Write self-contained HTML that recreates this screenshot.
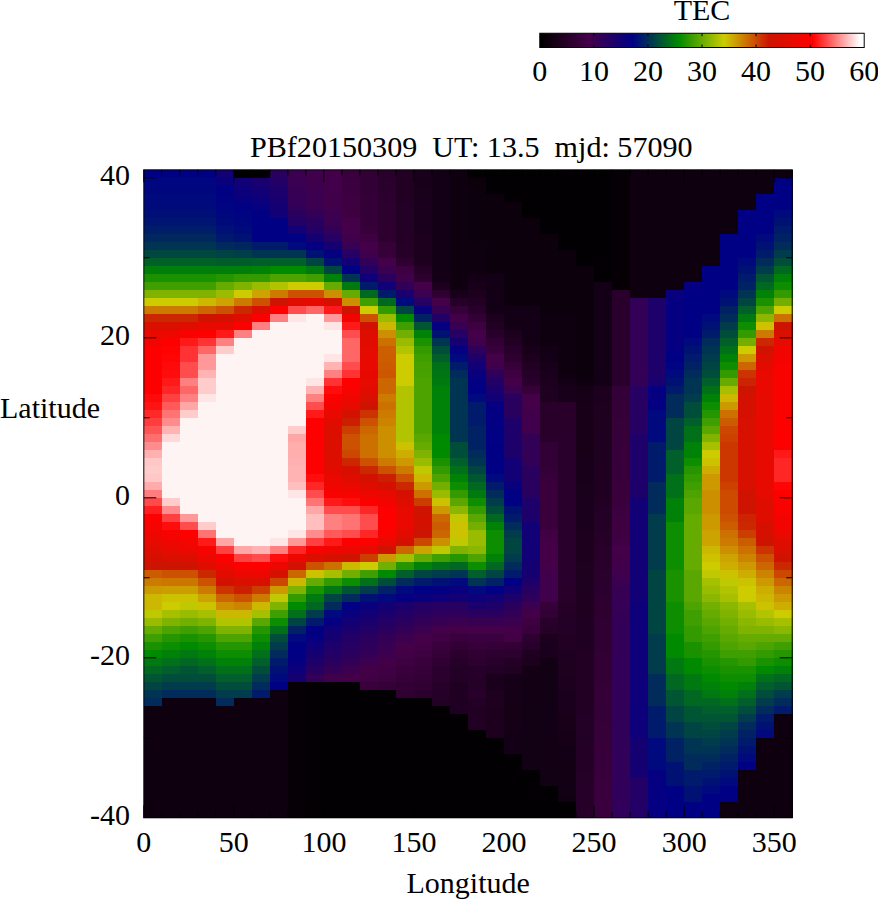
<!DOCTYPE html>
<html><head><meta charset="utf-8"><title>TEC map</title>
<style>
html,body{margin:0;padding:0;background:#fff}
body{width:878px;height:900px;overflow:hidden}
svg{display:block}
text{font-family:"Liberation Serif","Times New Roman",serif;font-size:30px;fill:#000}
</style></head><body>
<svg width="878" height="900" viewBox="0 0 878 900">
<defs><linearGradient id="cb" x1="0" x2="1" y1="0" y2="0"><stop offset="0.0000" stop-color="#000000"/><stop offset="0.1500" stop-color="#440048"/><stop offset="0.2867" stop-color="#000085"/><stop offset="0.4283" stop-color="#008a00"/><stop offset="0.5683" stop-color="#cccc00"/><stop offset="0.7067" stop-color="#cc1400"/><stop offset="0.8417" stop-color="#ff0000"/><stop offset="0.9867" stop-color="#ffffff"/><stop offset="1.0000" stop-color="#ffffff"/></linearGradient></defs>
<rect width="878" height="900" fill="#fff"/>
<g shape-rendering="crispEdges">
<rect x="143.8" y="169.80" width="18.3111" height="8.30" fill="#000085"/>
<rect x="143.8" y="177.80" width="18.3111" height="8.30" fill="#000580"/>
<rect x="143.8" y="185.80" width="18.3111" height="8.30" fill="#00077e"/>
<rect x="143.8" y="193.80" width="18.3111" height="8.30" fill="#00097d"/>
<rect x="143.8" y="201.80" width="18.3111" height="8.30" fill="#000a7b"/>
<rect x="143.8" y="209.80" width="18.3111" height="8.30" fill="#000e78"/>
<rect x="143.8" y="217.80" width="18.3111" height="8.30" fill="#001571"/>
<rect x="143.8" y="225.80" width="18.3111" height="8.30" fill="#001d69"/>
<rect x="143.8" y="233.80" width="18.3111" height="8.30" fill="#00285f"/>
<rect x="143.8" y="241.80" width="18.3111" height="8.30" fill="#003453"/>
<rect x="143.8" y="249.80" width="18.3111" height="8.30" fill="#00483f"/>
<rect x="143.8" y="257.80" width="18.3111" height="8.30" fill="#006128"/>
<rect x="143.8" y="265.80" width="18.3111" height="8.30" fill="#007e0c"/>
<rect x="143.8" y="273.80" width="18.3111" height="8.30" fill="#1a9200"/>
<rect x="143.8" y="281.80" width="18.3111" height="8.30" fill="#409f00"/>
<rect x="143.8" y="289.80" width="18.3111" height="8.30" fill="#80b300"/>
<rect x="143.8" y="297.80" width="18.3111" height="8.30" fill="#cccc00"/>
<rect x="143.8" y="305.80" width="18.3111" height="8.30" fill="#cc7a00"/>
<rect x="143.8" y="313.80" width="18.3111" height="8.30" fill="#cc2800"/>
<rect x="143.8" y="321.80" width="18.3111" height="8.30" fill="#d90f00"/>
<rect x="143.8" y="329.80" width="18.3111" height="8.30" fill="#e60a00"/>
<rect x="143.8" y="337.80" width="18.3111" height="8.30" fill="#f20500"/>
<rect x="143.8" y="345.80" width="18.3111" height="48.30" fill="#ff0000"/>
<rect x="143.8" y="393.80" width="18.3111" height="8.30" fill="#ff0a0a"/>
<rect x="143.8" y="401.80" width="18.3111" height="8.30" fill="#ff1414"/>
<rect x="143.8" y="409.80" width="18.3111" height="8.30" fill="#ff2929"/>
<rect x="143.8" y="417.80" width="18.3111" height="8.30" fill="#ff3d3d"/>
<rect x="143.8" y="425.80" width="18.3111" height="8.30" fill="#ff5454"/>
<rect x="143.8" y="433.80" width="18.3111" height="8.30" fill="#ff6e6e"/>
<rect x="143.8" y="441.80" width="18.3111" height="8.30" fill="#ff8c8c"/>
<rect x="143.8" y="449.80" width="18.3111" height="8.30" fill="#ffb0b0"/>
<rect x="143.8" y="457.80" width="18.3111" height="8.30" fill="#ffc7c7"/>
<rect x="143.8" y="465.80" width="18.3111" height="8.30" fill="#ffcccc"/>
<rect x="143.8" y="473.80" width="18.3111" height="8.30" fill="#ffc7c7"/>
<rect x="143.8" y="481.80" width="18.3111" height="8.30" fill="#ffabab"/>
<rect x="143.8" y="489.80" width="18.3111" height="8.30" fill="#ff7d7d"/>
<rect x="143.8" y="497.80" width="18.3111" height="8.30" fill="#ff4a4a"/>
<rect x="143.8" y="505.80" width="18.3111" height="8.30" fill="#ff1f1f"/>
<rect x="143.8" y="513.80" width="18.3111" height="8.30" fill="#ff0000"/>
<rect x="143.8" y="521.80" width="18.3111" height="8.30" fill="#f50400"/>
<rect x="143.8" y="529.80" width="18.3111" height="8.30" fill="#ef0600"/>
<rect x="143.8" y="537.80" width="18.3111" height="8.30" fill="#e60a00"/>
<rect x="143.8" y="545.80" width="18.3111" height="8.30" fill="#df0c00"/>
<rect x="143.8" y="553.80" width="18.3111" height="8.30" fill="#d61000"/>
<rect x="143.8" y="561.80" width="18.3111" height="8.30" fill="#cc1400"/>
<rect x="143.8" y="569.80" width="18.3111" height="8.30" fill="#cc5c00"/>
<rect x="143.8" y="577.80" width="18.3111" height="8.30" fill="#cc7a00"/>
<rect x="143.8" y="585.80" width="18.3111" height="8.30" fill="#cc9900"/>
<rect x="143.8" y="593.80" width="18.3111" height="16.30" fill="#ccb800"/>
<rect x="143.8" y="609.80" width="18.3111" height="8.30" fill="#bfc800"/>
<rect x="143.8" y="617.80" width="18.3111" height="8.30" fill="#99bc00"/>
<rect x="143.8" y="625.80" width="18.3111" height="8.30" fill="#66ab00"/>
<rect x="143.8" y="633.80" width="18.3111" height="8.30" fill="#409f00"/>
<rect x="143.8" y="641.80" width="18.3111" height="8.30" fill="#1a9200"/>
<rect x="143.8" y="649.80" width="18.3111" height="8.30" fill="#008a00"/>
<rect x="143.8" y="657.80" width="18.3111" height="8.30" fill="#007911"/>
<rect x="143.8" y="665.80" width="18.3111" height="8.30" fill="#006821"/>
<rect x="143.8" y="673.80" width="18.3111" height="8.30" fill="#005632"/>
<rect x="143.8" y="681.80" width="18.3111" height="8.30" fill="#004542"/>
<rect x="143.8" y="689.80" width="18.3111" height="8.30" fill="#003453"/>
<rect x="143.8" y="697.80" width="18.3111" height="8.30" fill="#002b5b"/>
<rect x="143.8" y="705.80" width="18.3111" height="112.30" fill="#0f0010"/>
<rect x="161.811" y="169.80" width="18.3111" height="8.30" fill="#000085"/>
<rect x="161.811" y="177.80" width="18.3111" height="8.30" fill="#000580"/>
<rect x="161.811" y="185.80" width="18.3111" height="8.30" fill="#00077e"/>
<rect x="161.811" y="193.80" width="18.3111" height="8.30" fill="#00097d"/>
<rect x="161.811" y="201.80" width="18.3111" height="8.30" fill="#000a7b"/>
<rect x="161.811" y="209.80" width="18.3111" height="8.30" fill="#000e78"/>
<rect x="161.811" y="217.80" width="18.3111" height="8.30" fill="#001571"/>
<rect x="161.811" y="225.80" width="18.3111" height="8.30" fill="#001d69"/>
<rect x="161.811" y="233.80" width="18.3111" height="8.30" fill="#00285f"/>
<rect x="161.811" y="241.80" width="18.3111" height="8.30" fill="#003453"/>
<rect x="161.811" y="249.80" width="18.3111" height="8.30" fill="#00483f"/>
<rect x="161.811" y="257.80" width="18.3111" height="8.30" fill="#006128"/>
<rect x="161.811" y="265.80" width="18.3111" height="8.30" fill="#007e0c"/>
<rect x="161.811" y="273.80" width="18.3111" height="8.30" fill="#1a9200"/>
<rect x="161.811" y="281.80" width="18.3111" height="8.30" fill="#409f00"/>
<rect x="161.811" y="289.80" width="18.3111" height="8.30" fill="#80b300"/>
<rect x="161.811" y="297.80" width="18.3111" height="8.30" fill="#cccc00"/>
<rect x="161.811" y="305.80" width="18.3111" height="8.30" fill="#cc7a00"/>
<rect x="161.811" y="313.80" width="18.3111" height="8.30" fill="#cc2800"/>
<rect x="161.811" y="321.80" width="18.3111" height="8.30" fill="#d90f00"/>
<rect x="161.811" y="329.80" width="18.3111" height="8.30" fill="#ec0800"/>
<rect x="161.811" y="337.80" width="18.3111" height="8.30" fill="#ff0000"/>
<rect x="161.811" y="345.80" width="18.3111" height="8.30" fill="#ff0303"/>
<rect x="161.811" y="353.80" width="18.3111" height="8.30" fill="#ff0505"/>
<rect x="161.811" y="361.80" width="18.3111" height="8.30" fill="#ff0a0a"/>
<rect x="161.811" y="369.80" width="18.3111" height="8.30" fill="#ff0d0d"/>
<rect x="161.811" y="377.80" width="18.3111" height="8.30" fill="#ff1919"/>
<rect x="161.811" y="385.80" width="18.3111" height="8.30" fill="#ff2626"/>
<rect x="161.811" y="393.80" width="18.3111" height="8.30" fill="#ff4040"/>
<rect x="161.811" y="401.80" width="18.3111" height="8.30" fill="#ff5959"/>
<rect x="161.811" y="409.80" width="18.3111" height="8.30" fill="#ff7373"/>
<rect x="161.811" y="417.80" width="18.3111" height="8.30" fill="#ff8c8c"/>
<rect x="161.811" y="425.80" width="18.3111" height="8.30" fill="#ffb3b3"/>
<rect x="161.811" y="433.80" width="18.3111" height="8.30" fill="#ffd9d9"/>
<rect x="161.811" y="441.80" width="18.3111" height="56.30" fill="#fff4f4"/>
<rect x="161.811" y="497.80" width="18.3111" height="8.30" fill="#ffcccc"/>
<rect x="161.811" y="505.80" width="18.3111" height="8.30" fill="#ff8c8c"/>
<rect x="161.811" y="513.80" width="18.3111" height="8.30" fill="#ff4040"/>
<rect x="161.811" y="521.80" width="18.3111" height="8.30" fill="#ff0d0d"/>
<rect x="161.811" y="529.80" width="18.3111" height="8.30" fill="#f90300"/>
<rect x="161.811" y="537.80" width="18.3111" height="8.30" fill="#ef0600"/>
<rect x="161.811" y="545.80" width="18.3111" height="8.30" fill="#e60a00"/>
<rect x="161.811" y="553.80" width="18.3111" height="8.30" fill="#d90f00"/>
<rect x="161.811" y="561.80" width="18.3111" height="8.30" fill="#cc1400"/>
<rect x="161.811" y="569.80" width="18.3111" height="8.30" fill="#cc5100"/>
<rect x="161.811" y="577.80" width="18.3111" height="8.30" fill="#cc7600"/>
<rect x="161.811" y="585.80" width="18.3111" height="8.30" fill="#cc9d00"/>
<rect x="161.811" y="593.80" width="18.3111" height="8.30" fill="#ccc200"/>
<rect x="161.811" y="601.80" width="18.3111" height="8.30" fill="#cccc00"/>
<rect x="161.811" y="609.80" width="18.3111" height="8.30" fill="#a6c000"/>
<rect x="161.811" y="617.80" width="18.3111" height="8.30" fill="#80b300"/>
<rect x="161.811" y="625.80" width="18.3111" height="8.30" fill="#4da300"/>
<rect x="161.811" y="633.80" width="18.3111" height="8.30" fill="#269600"/>
<rect x="161.811" y="641.80" width="18.3111" height="8.30" fill="#0d8e00"/>
<rect x="161.811" y="649.80" width="18.3111" height="8.30" fill="#008108"/>
<rect x="161.811" y="657.80" width="18.3111" height="8.30" fill="#007019"/>
<rect x="161.811" y="665.80" width="18.3111" height="8.30" fill="#005f2a"/>
<rect x="161.811" y="673.80" width="18.3111" height="8.30" fill="#004e3a"/>
<rect x="161.811" y="681.80" width="18.3111" height="8.30" fill="#003c4b"/>
<rect x="161.811" y="689.80" width="18.3111" height="8.30" fill="#002b5b"/>
<rect x="161.811" y="697.80" width="18.3111" height="120.30" fill="#0f0010"/>
<rect x="179.822" y="169.80" width="18.3111" height="8.30" fill="#000085"/>
<rect x="179.822" y="177.80" width="18.3111" height="8.30" fill="#000580"/>
<rect x="179.822" y="185.80" width="18.3111" height="8.30" fill="#00077e"/>
<rect x="179.822" y="193.80" width="18.3111" height="8.30" fill="#00097d"/>
<rect x="179.822" y="201.80" width="18.3111" height="8.30" fill="#000a7b"/>
<rect x="179.822" y="209.80" width="18.3111" height="8.30" fill="#000e78"/>
<rect x="179.822" y="217.80" width="18.3111" height="8.30" fill="#001571"/>
<rect x="179.822" y="225.80" width="18.3111" height="8.30" fill="#001d69"/>
<rect x="179.822" y="233.80" width="18.3111" height="8.30" fill="#00285f"/>
<rect x="179.822" y="241.80" width="18.3111" height="8.30" fill="#003453"/>
<rect x="179.822" y="249.80" width="18.3111" height="8.30" fill="#00483f"/>
<rect x="179.822" y="257.80" width="18.3111" height="8.30" fill="#006128"/>
<rect x="179.822" y="265.80" width="18.3111" height="8.30" fill="#007e0c"/>
<rect x="179.822" y="273.80" width="18.3111" height="8.30" fill="#1a9200"/>
<rect x="179.822" y="281.80" width="18.3111" height="8.30" fill="#409f00"/>
<rect x="179.822" y="289.80" width="18.3111" height="8.30" fill="#80b300"/>
<rect x="179.822" y="297.80" width="18.3111" height="8.30" fill="#cccc00"/>
<rect x="179.822" y="305.80" width="18.3111" height="8.30" fill="#cc7a00"/>
<rect x="179.822" y="313.80" width="18.3111" height="8.30" fill="#cc2800"/>
<rect x="179.822" y="321.80" width="18.3111" height="8.30" fill="#df0c00"/>
<rect x="179.822" y="329.80" width="18.3111" height="8.30" fill="#f90300"/>
<rect x="179.822" y="337.80" width="18.3111" height="8.30" fill="#ff1919"/>
<rect x="179.822" y="345.80" width="18.3111" height="16.30" fill="#ff3333"/>
<rect x="179.822" y="361.80" width="18.3111" height="16.30" fill="#ff4c4c"/>
<rect x="179.822" y="377.80" width="18.3111" height="8.30" fill="#ff8080"/>
<rect x="179.822" y="385.80" width="18.3111" height="8.30" fill="#ff6666"/>
<rect x="179.822" y="393.80" width="18.3111" height="8.30" fill="#ff8080"/>
<rect x="179.822" y="401.80" width="18.3111" height="8.30" fill="#ffa6a6"/>
<rect x="179.822" y="409.80" width="18.3111" height="8.30" fill="#ffcccc"/>
<rect x="179.822" y="417.80" width="18.3111" height="96.30" fill="#fff4f4"/>
<rect x="179.822" y="513.80" width="18.3111" height="8.30" fill="#ff9999"/>
<rect x="179.822" y="521.80" width="18.3111" height="8.30" fill="#ff4c4c"/>
<rect x="179.822" y="529.80" width="18.3111" height="8.30" fill="#ff0000"/>
<rect x="179.822" y="537.80" width="18.3111" height="8.30" fill="#f50400"/>
<rect x="179.822" y="545.80" width="18.3111" height="8.30" fill="#ec0800"/>
<rect x="179.822" y="553.80" width="18.3111" height="8.30" fill="#dc0e00"/>
<rect x="179.822" y="561.80" width="18.3111" height="8.30" fill="#cf1300"/>
<rect x="179.822" y="569.80" width="18.3111" height="8.30" fill="#cc5100"/>
<rect x="179.822" y="577.80" width="18.3111" height="8.30" fill="#cc7600"/>
<rect x="179.822" y="585.80" width="18.3111" height="8.30" fill="#cc9d00"/>
<rect x="179.822" y="593.80" width="18.3111" height="8.30" fill="#ccc200"/>
<rect x="179.822" y="601.80" width="18.3111" height="8.30" fill="#bfc800"/>
<rect x="179.822" y="609.80" width="18.3111" height="8.30" fill="#99bc00"/>
<rect x="179.822" y="617.80" width="18.3111" height="8.30" fill="#73af00"/>
<rect x="179.822" y="625.80" width="18.3111" height="8.30" fill="#409f00"/>
<rect x="179.822" y="633.80" width="18.3111" height="8.30" fill="#1a9200"/>
<rect x="179.822" y="641.80" width="18.3111" height="8.30" fill="#008a00"/>
<rect x="179.822" y="649.80" width="18.3111" height="8.30" fill="#007911"/>
<rect x="179.822" y="657.80" width="18.3111" height="8.30" fill="#006821"/>
<rect x="179.822" y="665.80" width="18.3111" height="8.30" fill="#005632"/>
<rect x="179.822" y="673.80" width="18.3111" height="8.30" fill="#004e3a"/>
<rect x="179.822" y="681.80" width="18.3111" height="8.30" fill="#003c4b"/>
<rect x="179.822" y="689.80" width="18.3111" height="8.30" fill="#002b5b"/>
<rect x="179.822" y="697.80" width="18.3111" height="120.30" fill="#0f0010"/>
<rect x="197.833" y="169.80" width="18.3111" height="8.30" fill="#000085"/>
<rect x="197.833" y="177.80" width="18.3111" height="8.30" fill="#000580"/>
<rect x="197.833" y="185.80" width="18.3111" height="8.30" fill="#00077e"/>
<rect x="197.833" y="193.80" width="18.3111" height="8.30" fill="#00097d"/>
<rect x="197.833" y="201.80" width="18.3111" height="8.30" fill="#000a7b"/>
<rect x="197.833" y="209.80" width="18.3111" height="8.30" fill="#000e78"/>
<rect x="197.833" y="217.80" width="18.3111" height="8.30" fill="#001571"/>
<rect x="197.833" y="225.80" width="18.3111" height="8.30" fill="#001d69"/>
<rect x="197.833" y="233.80" width="18.3111" height="8.30" fill="#00285f"/>
<rect x="197.833" y="241.80" width="18.3111" height="8.30" fill="#003453"/>
<rect x="197.833" y="249.80" width="18.3111" height="8.30" fill="#00483f"/>
<rect x="197.833" y="257.80" width="18.3111" height="8.30" fill="#006128"/>
<rect x="197.833" y="265.80" width="18.3111" height="8.30" fill="#007e0c"/>
<rect x="197.833" y="273.80" width="18.3111" height="8.30" fill="#1a9200"/>
<rect x="197.833" y="281.80" width="18.3111" height="8.30" fill="#409f00"/>
<rect x="197.833" y="289.80" width="18.3111" height="8.30" fill="#80b300"/>
<rect x="197.833" y="297.80" width="18.3111" height="8.30" fill="#ccb800"/>
<rect x="197.833" y="305.80" width="18.3111" height="8.30" fill="#cc6600"/>
<rect x="197.833" y="313.80" width="18.3111" height="8.30" fill="#cc1400"/>
<rect x="197.833" y="321.80" width="18.3111" height="8.30" fill="#e60a00"/>
<rect x="197.833" y="329.80" width="18.3111" height="8.30" fill="#ff0000"/>
<rect x="197.833" y="337.80" width="18.3111" height="8.30" fill="#ff3333"/>
<rect x="197.833" y="345.80" width="18.3111" height="8.30" fill="#ff6666"/>
<rect x="197.833" y="353.80" width="18.3111" height="16.30" fill="#ff9999"/>
<rect x="197.833" y="369.80" width="18.3111" height="8.30" fill="#ffb3b3"/>
<rect x="197.833" y="377.80" width="18.3111" height="16.30" fill="#ffcccc"/>
<rect x="197.833" y="393.80" width="18.3111" height="8.30" fill="#ffe6e6"/>
<rect x="197.833" y="401.80" width="18.3111" height="120.30" fill="#fff4f4"/>
<rect x="197.833" y="521.80" width="18.3111" height="8.30" fill="#ffcccc"/>
<rect x="197.833" y="529.80" width="18.3111" height="8.30" fill="#ff7373"/>
<rect x="197.833" y="537.80" width="18.3111" height="8.30" fill="#ff1919"/>
<rect x="197.833" y="545.80" width="18.3111" height="8.30" fill="#f90300"/>
<rect x="197.833" y="553.80" width="18.3111" height="8.30" fill="#ec0800"/>
<rect x="197.833" y="561.80" width="18.3111" height="8.30" fill="#df0c00"/>
<rect x="197.833" y="569.80" width="18.3111" height="8.30" fill="#cc2800"/>
<rect x="197.833" y="577.80" width="18.3111" height="8.30" fill="#cc5100"/>
<rect x="197.833" y="585.80" width="18.3111" height="8.30" fill="#cc7a00"/>
<rect x="197.833" y="593.80" width="18.3111" height="8.30" fill="#cca300"/>
<rect x="197.833" y="601.80" width="18.3111" height="8.30" fill="#ccc200"/>
<rect x="197.833" y="609.80" width="18.3111" height="8.30" fill="#a6c000"/>
<rect x="197.833" y="617.80" width="18.3111" height="8.30" fill="#80b300"/>
<rect x="197.833" y="625.80" width="18.3111" height="8.30" fill="#4da300"/>
<rect x="197.833" y="633.80" width="18.3111" height="8.30" fill="#269600"/>
<rect x="197.833" y="641.80" width="18.3111" height="8.30" fill="#0d8e00"/>
<rect x="197.833" y="649.80" width="18.3111" height="8.30" fill="#008108"/>
<rect x="197.833" y="657.80" width="18.3111" height="8.30" fill="#007019"/>
<rect x="197.833" y="665.80" width="18.3111" height="8.30" fill="#005f2a"/>
<rect x="197.833" y="673.80" width="18.3111" height="8.30" fill="#004e3a"/>
<rect x="197.833" y="681.80" width="18.3111" height="8.30" fill="#003c4b"/>
<rect x="197.833" y="689.80" width="18.3111" height="8.30" fill="#002b5b"/>
<rect x="197.833" y="697.80" width="18.3111" height="120.30" fill="#0f0010"/>
<rect x="215.844" y="169.80" width="18.3111" height="8.30" fill="#110076"/>
<rect x="215.844" y="177.80" width="18.3111" height="8.30" fill="#09007d"/>
<rect x="215.844" y="185.80" width="18.3111" height="8.30" fill="#000085"/>
<rect x="215.844" y="193.80" width="18.3111" height="8.30" fill="#000283"/>
<rect x="215.844" y="201.80" width="18.3111" height="8.30" fill="#000382"/>
<rect x="215.844" y="209.80" width="18.3111" height="8.30" fill="#00077e"/>
<rect x="215.844" y="217.80" width="18.3111" height="8.30" fill="#000a7b"/>
<rect x="215.844" y="225.80" width="18.3111" height="8.30" fill="#001076"/>
<rect x="215.844" y="233.80" width="18.3111" height="8.30" fill="#00186e"/>
<rect x="215.844" y="241.80" width="18.3111" height="8.30" fill="#00295d"/>
<rect x="215.844" y="249.80" width="18.3111" height="8.30" fill="#004344"/>
<rect x="215.844" y="257.80" width="18.3111" height="8.30" fill="#005d2b"/>
<rect x="215.844" y="265.80" width="18.3111" height="8.30" fill="#007e0c"/>
<rect x="215.844" y="273.80" width="18.3111" height="8.30" fill="#269600"/>
<rect x="215.844" y="281.80" width="18.3111" height="8.30" fill="#66ab00"/>
<rect x="215.844" y="289.80" width="18.3111" height="8.30" fill="#99bc00"/>
<rect x="215.844" y="297.80" width="18.3111" height="8.30" fill="#cca300"/>
<rect x="215.844" y="305.80" width="18.3111" height="8.30" fill="#cc5100"/>
<rect x="215.844" y="313.80" width="18.3111" height="8.30" fill="#d21100"/>
<rect x="215.844" y="321.80" width="18.3111" height="8.30" fill="#e60a00"/>
<rect x="215.844" y="329.80" width="18.3111" height="8.30" fill="#ff1919"/>
<rect x="215.844" y="337.80" width="18.3111" height="8.30" fill="#ff8080"/>
<rect x="215.844" y="345.80" width="18.3111" height="8.30" fill="#ffcccc"/>
<rect x="215.844" y="353.80" width="18.3111" height="184.30" fill="#fff4f4"/>
<rect x="215.844" y="537.80" width="18.3111" height="8.30" fill="#ffa6a6"/>
<rect x="215.844" y="545.80" width="18.3111" height="8.30" fill="#ff4040"/>
<rect x="215.844" y="553.80" width="18.3111" height="8.30" fill="#ff0000"/>
<rect x="215.844" y="561.80" width="18.3111" height="8.30" fill="#ef0600"/>
<rect x="215.844" y="569.80" width="18.3111" height="8.30" fill="#e20b00"/>
<rect x="215.844" y="577.80" width="18.3111" height="8.30" fill="#d21100"/>
<rect x="215.844" y="585.80" width="18.3111" height="8.30" fill="#cc3300"/>
<rect x="215.844" y="593.80" width="18.3111" height="8.30" fill="#cc6600"/>
<rect x="215.844" y="601.80" width="18.3111" height="8.30" fill="#cc8f00"/>
<rect x="215.844" y="609.80" width="18.3111" height="8.30" fill="#ccb800"/>
<rect x="215.844" y="617.80" width="18.3111" height="8.30" fill="#b2c400"/>
<rect x="215.844" y="625.80" width="18.3111" height="8.30" fill="#80b300"/>
<rect x="215.844" y="633.80" width="18.3111" height="8.30" fill="#4da300"/>
<rect x="215.844" y="641.80" width="18.3111" height="8.30" fill="#269600"/>
<rect x="215.844" y="649.80" width="18.3111" height="8.30" fill="#0d8e00"/>
<rect x="215.844" y="657.80" width="18.3111" height="8.30" fill="#008108"/>
<rect x="215.844" y="665.80" width="18.3111" height="8.30" fill="#007019"/>
<rect x="215.844" y="673.80" width="18.3111" height="8.30" fill="#005f2a"/>
<rect x="215.844" y="681.80" width="18.3111" height="8.30" fill="#004e3a"/>
<rect x="215.844" y="689.80" width="18.3111" height="8.30" fill="#003c4b"/>
<rect x="215.844" y="697.80" width="18.3111" height="8.30" fill="#002b5b"/>
<rect x="215.844" y="705.80" width="18.3111" height="112.30" fill="#0f0010"/>
<rect x="233.856" y="169.80" width="18.3111" height="8.30" fill="#030003"/>
<rect x="233.856" y="177.80" width="18.3111" height="8.30" fill="#110076"/>
<rect x="233.856" y="185.80" width="18.3111" height="8.30" fill="#0d007a"/>
<rect x="233.856" y="193.80" width="18.3111" height="8.30" fill="#09007d"/>
<rect x="233.856" y="201.80" width="18.3111" height="8.30" fill="#000283"/>
<rect x="233.856" y="209.80" width="18.3111" height="8.30" fill="#000382"/>
<rect x="233.856" y="217.80" width="18.3111" height="8.30" fill="#00077e"/>
<rect x="233.856" y="225.80" width="18.3111" height="8.30" fill="#000a7b"/>
<rect x="233.856" y="233.80" width="18.3111" height="8.30" fill="#001174"/>
<rect x="233.856" y="241.80" width="18.3111" height="8.30" fill="#002660"/>
<rect x="233.856" y="249.80" width="18.3111" height="8.30" fill="#003e49"/>
<rect x="233.856" y="257.80" width="18.3111" height="8.30" fill="#005d2b"/>
<rect x="233.856" y="265.80" width="18.3111" height="8.30" fill="#007e0c"/>
<rect x="233.856" y="273.80" width="18.3111" height="8.30" fill="#339a00"/>
<rect x="233.856" y="281.80" width="18.3111" height="8.30" fill="#80b300"/>
<rect x="233.856" y="289.80" width="18.3111" height="8.30" fill="#cccc00"/>
<rect x="233.856" y="297.80" width="18.3111" height="8.30" fill="#cc7a00"/>
<rect x="233.856" y="305.80" width="18.3111" height="8.30" fill="#cc2800"/>
<rect x="233.856" y="313.80" width="18.3111" height="8.30" fill="#df0c00"/>
<rect x="233.856" y="321.80" width="18.3111" height="8.30" fill="#ff0000"/>
<rect x="233.856" y="329.80" width="18.3111" height="8.30" fill="#ff8080"/>
<rect x="233.856" y="337.80" width="18.3111" height="208.30" fill="#fff4f4"/>
<rect x="233.856" y="545.80" width="18.3111" height="8.30" fill="#ffa6a6"/>
<rect x="233.856" y="553.80" width="18.3111" height="8.30" fill="#ff4040"/>
<rect x="233.856" y="561.80" width="18.3111" height="8.30" fill="#fc0100"/>
<rect x="233.856" y="569.80" width="18.3111" height="8.30" fill="#ec0800"/>
<rect x="233.856" y="577.80" width="18.3111" height="8.30" fill="#d90f00"/>
<rect x="233.856" y="585.80" width="18.3111" height="8.30" fill="#cc1e00"/>
<rect x="233.856" y="593.80" width="18.3111" height="8.30" fill="#cc5100"/>
<rect x="233.856" y="601.80" width="18.3111" height="8.30" fill="#cc8400"/>
<rect x="233.856" y="609.80" width="18.3111" height="8.30" fill="#ccb800"/>
<rect x="233.856" y="617.80" width="18.3111" height="8.30" fill="#b2c400"/>
<rect x="233.856" y="625.80" width="18.3111" height="8.30" fill="#80b300"/>
<rect x="233.856" y="633.80" width="18.3111" height="8.30" fill="#4da300"/>
<rect x="233.856" y="641.80" width="18.3111" height="8.30" fill="#269600"/>
<rect x="233.856" y="649.80" width="18.3111" height="8.30" fill="#0d8e00"/>
<rect x="233.856" y="657.80" width="18.3111" height="8.30" fill="#008108"/>
<rect x="233.856" y="665.80" width="18.3111" height="8.30" fill="#007019"/>
<rect x="233.856" y="673.80" width="18.3111" height="8.30" fill="#005f2a"/>
<rect x="233.856" y="681.80" width="18.3111" height="8.30" fill="#004e3a"/>
<rect x="233.856" y="689.80" width="18.3111" height="8.30" fill="#003c4b"/>
<rect x="233.856" y="697.80" width="18.3111" height="120.30" fill="#0f0010"/>
<rect x="251.867" y="169.80" width="18.3111" height="8.30" fill="#030003"/>
<rect x="251.867" y="177.80" width="18.3111" height="8.30" fill="#1a006e"/>
<rect x="251.867" y="185.80" width="18.3111" height="8.30" fill="#130074"/>
<rect x="251.867" y="193.80" width="18.3111" height="8.30" fill="#0d007a"/>
<rect x="251.867" y="201.80" width="18.3111" height="8.30" fill="#07007f"/>
<rect x="251.867" y="209.80" width="18.3111" height="32.30" fill="#000085"/>
<rect x="251.867" y="241.80" width="18.3111" height="8.30" fill="#001a6c"/>
<rect x="251.867" y="249.80" width="18.3111" height="8.30" fill="#003453"/>
<rect x="251.867" y="257.80" width="18.3111" height="8.30" fill="#005f2a"/>
<rect x="251.867" y="265.80" width="18.3111" height="8.30" fill="#008108"/>
<rect x="251.867" y="273.80" width="18.3111" height="8.30" fill="#339a00"/>
<rect x="251.867" y="281.80" width="18.3111" height="8.30" fill="#99bc00"/>
<rect x="251.867" y="289.80" width="18.3111" height="8.30" fill="#cca300"/>
<rect x="251.867" y="297.80" width="18.3111" height="8.30" fill="#cc5100"/>
<rect x="251.867" y="305.80" width="18.3111" height="8.30" fill="#d90f00"/>
<rect x="251.867" y="313.80" width="18.3111" height="8.30" fill="#ff0000"/>
<rect x="251.867" y="321.80" width="18.3111" height="8.30" fill="#ff8080"/>
<rect x="251.867" y="329.80" width="18.3111" height="216.30" fill="#fff4f4"/>
<rect x="251.867" y="545.80" width="18.3111" height="8.30" fill="#ffb3b3"/>
<rect x="251.867" y="553.80" width="18.3111" height="8.30" fill="#ff4c4c"/>
<rect x="251.867" y="561.80" width="18.3111" height="8.30" fill="#ff0000"/>
<rect x="251.867" y="569.80" width="18.3111" height="8.30" fill="#ec0800"/>
<rect x="251.867" y="577.80" width="18.3111" height="8.30" fill="#d90f00"/>
<rect x="251.867" y="585.80" width="18.3111" height="8.30" fill="#cc3d00"/>
<rect x="251.867" y="593.80" width="18.3111" height="8.30" fill="#cc7a00"/>
<rect x="251.867" y="601.80" width="18.3111" height="8.30" fill="#ccb800"/>
<rect x="251.867" y="609.80" width="18.3111" height="8.30" fill="#a6c000"/>
<rect x="251.867" y="617.80" width="18.3111" height="8.30" fill="#59a700"/>
<rect x="251.867" y="625.80" width="18.3111" height="8.30" fill="#269600"/>
<rect x="251.867" y="633.80" width="18.3111" height="8.30" fill="#0d8e00"/>
<rect x="251.867" y="641.80" width="18.3111" height="8.30" fill="#008108"/>
<rect x="251.867" y="649.80" width="18.3111" height="8.30" fill="#007019"/>
<rect x="251.867" y="657.80" width="18.3111" height="8.30" fill="#005f2a"/>
<rect x="251.867" y="665.80" width="18.3111" height="8.30" fill="#004e3a"/>
<rect x="251.867" y="673.80" width="18.3111" height="8.30" fill="#003c4b"/>
<rect x="251.867" y="681.80" width="18.3111" height="8.30" fill="#002b5b"/>
<rect x="251.867" y="689.80" width="18.3111" height="8.30" fill="#001a6c"/>
<rect x="251.867" y="697.80" width="18.3111" height="120.30" fill="#0f0010"/>
<rect x="269.878" y="169.80" width="18.3111" height="8.30" fill="#2a005f"/>
<rect x="269.878" y="177.80" width="18.3111" height="8.30" fill="#220066"/>
<rect x="269.878" y="185.80" width="18.3111" height="8.30" fill="#1e006a"/>
<rect x="269.878" y="193.80" width="18.3111" height="8.30" fill="#1a006e"/>
<rect x="269.878" y="201.80" width="18.3111" height="8.30" fill="#150072"/>
<rect x="269.878" y="209.80" width="18.3111" height="8.30" fill="#110076"/>
<rect x="269.878" y="217.80" width="18.3111" height="24.30" fill="#000085"/>
<rect x="269.878" y="241.80" width="18.3111" height="8.30" fill="#001a6c"/>
<rect x="269.878" y="249.80" width="18.3111" height="8.30" fill="#003453"/>
<rect x="269.878" y="257.80" width="18.3111" height="8.30" fill="#005f2a"/>
<rect x="269.878" y="265.80" width="18.3111" height="8.30" fill="#008a00"/>
<rect x="269.878" y="273.80" width="18.3111" height="8.30" fill="#4da300"/>
<rect x="269.878" y="281.80" width="18.3111" height="8.30" fill="#b2c400"/>
<rect x="269.878" y="289.80" width="18.3111" height="8.30" fill="#cc7a00"/>
<rect x="269.878" y="297.80" width="18.3111" height="8.30" fill="#cc1400"/>
<rect x="269.878" y="305.80" width="18.3111" height="8.30" fill="#ff0000"/>
<rect x="269.878" y="313.80" width="18.3111" height="8.30" fill="#ff8080"/>
<rect x="269.878" y="321.80" width="18.3111" height="216.30" fill="#fff4f4"/>
<rect x="269.878" y="537.80" width="18.3111" height="8.30" fill="#ffe6e6"/>
<rect x="269.878" y="545.80" width="18.3111" height="8.30" fill="#ff8080"/>
<rect x="269.878" y="553.80" width="18.3111" height="8.30" fill="#ff0d0d"/>
<rect x="269.878" y="561.80" width="18.3111" height="8.30" fill="#ec0800"/>
<rect x="269.878" y="569.80" width="18.3111" height="8.30" fill="#d61000"/>
<rect x="269.878" y="577.80" width="18.3111" height="8.30" fill="#cc4700"/>
<rect x="269.878" y="585.80" width="18.3111" height="8.30" fill="#cc9900"/>
<rect x="269.878" y="593.80" width="18.3111" height="8.30" fill="#bfc800"/>
<rect x="269.878" y="601.80" width="18.3111" height="8.30" fill="#80b300"/>
<rect x="269.878" y="609.80" width="18.3111" height="8.30" fill="#409f00"/>
<rect x="269.878" y="617.80" width="18.3111" height="8.30" fill="#0d8e00"/>
<rect x="269.878" y="625.80" width="18.3111" height="8.30" fill="#007019"/>
<rect x="269.878" y="633.80" width="18.3111" height="8.30" fill="#004e3a"/>
<rect x="269.878" y="641.80" width="18.3111" height="8.30" fill="#003c4b"/>
<rect x="269.878" y="649.80" width="18.3111" height="8.30" fill="#002b5b"/>
<rect x="269.878" y="657.80" width="18.3111" height="8.30" fill="#001a6c"/>
<rect x="269.878" y="665.80" width="18.3111" height="8.30" fill="#001174"/>
<rect x="269.878" y="673.80" width="18.3111" height="8.30" fill="#00097d"/>
<rect x="269.878" y="681.80" width="18.3111" height="8.30" fill="#000085"/>
<rect x="269.878" y="689.80" width="18.3111" height="128.30" fill="#0f0010"/>
<rect x="287.889" y="169.80" width="18.3111" height="8.30" fill="#3c0050"/>
<rect x="287.889" y="177.80" width="18.3111" height="8.30" fill="#3a0051"/>
<rect x="287.889" y="185.80" width="18.3111" height="8.30" fill="#370053"/>
<rect x="287.889" y="193.80" width="18.3111" height="8.30" fill="#350056"/>
<rect x="287.889" y="201.80" width="18.3111" height="8.30" fill="#330057"/>
<rect x="287.889" y="209.80" width="18.3111" height="8.30" fill="#2a005f"/>
<rect x="287.889" y="217.80" width="18.3111" height="8.30" fill="#220066"/>
<rect x="287.889" y="225.80" width="18.3111" height="8.30" fill="#110076"/>
<rect x="287.889" y="233.80" width="18.3111" height="8.30" fill="#000085"/>
<rect x="287.889" y="241.80" width="18.3111" height="8.30" fill="#00097d"/>
<rect x="287.889" y="249.80" width="18.3111" height="8.30" fill="#003453"/>
<rect x="287.889" y="257.80" width="18.3111" height="8.30" fill="#005f2a"/>
<rect x="287.889" y="265.80" width="18.3111" height="8.30" fill="#008a00"/>
<rect x="287.889" y="273.80" width="18.3111" height="8.30" fill="#4da300"/>
<rect x="287.889" y="281.80" width="18.3111" height="8.30" fill="#cccc00"/>
<rect x="287.889" y="289.80" width="18.3111" height="8.30" fill="#cc5100"/>
<rect x="287.889" y="297.80" width="18.3111" height="8.30" fill="#df0c00"/>
<rect x="287.889" y="305.80" width="18.3111" height="8.30" fill="#ff4c4c"/>
<rect x="287.889" y="313.80" width="18.3111" height="8.30" fill="#ffe6e6"/>
<rect x="287.889" y="321.80" width="18.3111" height="104.30" fill="#fff4f4"/>
<rect x="287.889" y="425.80" width="18.3111" height="8.30" fill="#ffcccc"/>
<rect x="287.889" y="433.80" width="18.3111" height="8.30" fill="#ffa6a6"/>
<rect x="287.889" y="441.80" width="18.3111" height="16.30" fill="#ffadad"/>
<rect x="287.889" y="457.80" width="18.3111" height="8.30" fill="#ffb0b0"/>
<rect x="287.889" y="465.80" width="18.3111" height="16.30" fill="#ffb3b3"/>
<rect x="287.889" y="481.80" width="18.3111" height="8.30" fill="#ffbfbf"/>
<rect x="287.889" y="489.80" width="18.3111" height="8.30" fill="#ffe6e6"/>
<rect x="287.889" y="497.80" width="18.3111" height="32.30" fill="#fff4f4"/>
<rect x="287.889" y="529.80" width="18.3111" height="8.30" fill="#ffe6e6"/>
<rect x="287.889" y="537.80" width="18.3111" height="8.30" fill="#ff9999"/>
<rect x="287.889" y="545.80" width="18.3111" height="8.30" fill="#ff2626"/>
<rect x="287.889" y="553.80" width="18.3111" height="8.30" fill="#ec0800"/>
<rect x="287.889" y="561.80" width="18.3111" height="8.30" fill="#d21100"/>
<rect x="287.889" y="569.80" width="18.3111" height="8.30" fill="#cc6600"/>
<rect x="287.889" y="577.80" width="18.3111" height="8.30" fill="#ccb800"/>
<rect x="287.889" y="585.80" width="18.3111" height="8.30" fill="#80b300"/>
<rect x="287.889" y="593.80" width="18.3111" height="8.30" fill="#339a00"/>
<rect x="287.889" y="601.80" width="18.3111" height="8.30" fill="#008a00"/>
<rect x="287.889" y="609.80" width="18.3111" height="8.30" fill="#007019"/>
<rect x="287.889" y="617.80" width="18.3111" height="8.30" fill="#004542"/>
<rect x="287.889" y="625.80" width="18.3111" height="8.30" fill="#002264"/>
<rect x="287.889" y="633.80" width="18.3111" height="8.30" fill="#00097d"/>
<rect x="287.889" y="641.80" width="18.3111" height="16.30" fill="#000085"/>
<rect x="287.889" y="657.80" width="18.3111" height="8.30" fill="#040081"/>
<rect x="287.889" y="665.80" width="18.3111" height="8.30" fill="#0d007a"/>
<rect x="287.889" y="673.80" width="18.3111" height="8.30" fill="#150072"/>
<rect x="287.889" y="681.80" width="18.3111" height="136.30" fill="#060006"/>
<rect x="305.9" y="169.80" width="18.3111" height="8.30" fill="#40004c"/>
<rect x="305.9" y="177.80" width="18.3111" height="8.30" fill="#3e004d"/>
<rect x="305.9" y="185.80" width="18.3111" height="8.30" fill="#3d004e"/>
<rect x="305.9" y="193.80" width="18.3111" height="16.30" fill="#3c0050"/>
<rect x="305.9" y="209.80" width="18.3111" height="8.30" fill="#330057"/>
<rect x="305.9" y="217.80" width="18.3111" height="8.30" fill="#2a005f"/>
<rect x="305.9" y="225.80" width="18.3111" height="8.30" fill="#220066"/>
<rect x="305.9" y="233.80" width="18.3111" height="8.30" fill="#150072"/>
<rect x="305.9" y="241.80" width="18.3111" height="8.30" fill="#040081"/>
<rect x="305.9" y="249.80" width="18.3111" height="8.30" fill="#001174"/>
<rect x="305.9" y="257.80" width="18.3111" height="8.30" fill="#004542"/>
<rect x="305.9" y="265.80" width="18.3111" height="8.30" fill="#007911"/>
<rect x="305.9" y="273.80" width="18.3111" height="8.30" fill="#409f00"/>
<rect x="305.9" y="281.80" width="18.3111" height="8.30" fill="#cccc00"/>
<rect x="305.9" y="289.80" width="18.3111" height="8.30" fill="#cc5100"/>
<rect x="305.9" y="297.80" width="18.3111" height="8.30" fill="#e60a00"/>
<rect x="305.9" y="305.80" width="18.3111" height="8.30" fill="#ff6666"/>
<rect x="305.9" y="313.80" width="18.3111" height="64.30" fill="#fff4f4"/>
<rect x="305.9" y="377.80" width="18.3111" height="8.30" fill="#ffe6e6"/>
<rect x="305.9" y="385.80" width="18.3111" height="8.30" fill="#ffb3b3"/>
<rect x="305.9" y="393.80" width="18.3111" height="8.30" fill="#ff8080"/>
<rect x="305.9" y="401.80" width="18.3111" height="8.30" fill="#ff4c4c"/>
<rect x="305.9" y="409.80" width="18.3111" height="8.30" fill="#ff1919"/>
<rect x="305.9" y="417.80" width="18.3111" height="56.30" fill="#ff0000"/>
<rect x="305.9" y="473.80" width="18.3111" height="8.30" fill="#ff0d0d"/>
<rect x="305.9" y="481.80" width="18.3111" height="8.30" fill="#ff2626"/>
<rect x="305.9" y="489.80" width="18.3111" height="8.30" fill="#ff4c4c"/>
<rect x="305.9" y="497.80" width="18.3111" height="8.30" fill="#ff7373"/>
<rect x="305.9" y="505.80" width="18.3111" height="8.30" fill="#ffa6a6"/>
<rect x="305.9" y="513.80" width="18.3111" height="16.30" fill="#ffbfbf"/>
<rect x="305.9" y="529.80" width="18.3111" height="8.30" fill="#ff8c8c"/>
<rect x="305.9" y="537.80" width="18.3111" height="8.30" fill="#ff4040"/>
<rect x="305.9" y="545.80" width="18.3111" height="8.30" fill="#f90300"/>
<rect x="305.9" y="553.80" width="18.3111" height="8.30" fill="#dc0e00"/>
<rect x="305.9" y="561.80" width="18.3111" height="8.30" fill="#cc5100"/>
<rect x="305.9" y="569.80" width="18.3111" height="8.30" fill="#ccc200"/>
<rect x="305.9" y="577.80" width="18.3111" height="8.30" fill="#66ab00"/>
<rect x="305.9" y="585.80" width="18.3111" height="8.30" fill="#1a9200"/>
<rect x="305.9" y="593.80" width="18.3111" height="8.30" fill="#007911"/>
<rect x="305.9" y="601.80" width="18.3111" height="8.30" fill="#006821"/>
<rect x="305.9" y="609.80" width="18.3111" height="8.30" fill="#003c4b"/>
<rect x="305.9" y="617.80" width="18.3111" height="8.30" fill="#001a6c"/>
<rect x="305.9" y="625.80" width="18.3111" height="8.30" fill="#000085"/>
<rect x="305.9" y="633.80" width="18.3111" height="8.30" fill="#040081"/>
<rect x="305.9" y="641.80" width="18.3111" height="8.30" fill="#0d007a"/>
<rect x="305.9" y="649.80" width="18.3111" height="8.30" fill="#150072"/>
<rect x="305.9" y="657.80" width="18.3111" height="8.30" fill="#1e006a"/>
<rect x="305.9" y="665.80" width="18.3111" height="8.30" fill="#260063"/>
<rect x="305.9" y="673.80" width="18.3111" height="8.30" fill="#330057"/>
<rect x="305.9" y="681.80" width="18.3111" height="136.30" fill="#030003"/>
<rect x="323.911" y="169.80" width="18.3111" height="8.30" fill="#430049"/>
<rect x="323.911" y="177.80" width="18.3111" height="8.30" fill="#42004a"/>
<rect x="323.911" y="185.80" width="18.3111" height="8.30" fill="#42004a"/>
<rect x="323.911" y="193.80" width="18.3111" height="8.30" fill="#41004a"/>
<rect x="323.911" y="201.80" width="18.3111" height="8.30" fill="#41004b"/>
<rect x="323.911" y="209.80" width="18.3111" height="16.30" fill="#3c0050"/>
<rect x="323.911" y="225.80" width="18.3111" height="8.30" fill="#330057"/>
<rect x="323.911" y="233.80" width="18.3111" height="8.30" fill="#260063"/>
<rect x="323.911" y="241.80" width="18.3111" height="8.30" fill="#150072"/>
<rect x="323.911" y="249.80" width="18.3111" height="8.30" fill="#040081"/>
<rect x="323.911" y="257.80" width="18.3111" height="8.30" fill="#001174"/>
<rect x="323.911" y="265.80" width="18.3111" height="8.30" fill="#004542"/>
<rect x="323.911" y="273.80" width="18.3111" height="8.30" fill="#008108"/>
<rect x="323.911" y="281.80" width="18.3111" height="8.30" fill="#66ab00"/>
<rect x="323.911" y="289.80" width="18.3111" height="8.30" fill="#cc8f00"/>
<rect x="323.911" y="297.80" width="18.3111" height="8.30" fill="#d21100"/>
<rect x="323.911" y="305.80" width="18.3111" height="8.30" fill="#ff1919"/>
<rect x="323.911" y="313.80" width="18.3111" height="8.30" fill="#ff9999"/>
<rect x="323.911" y="321.80" width="18.3111" height="8.30" fill="#ffe6e6"/>
<rect x="323.911" y="329.80" width="18.3111" height="24.30" fill="#fff4f4"/>
<rect x="323.911" y="353.80" width="18.3111" height="8.30" fill="#ffe6e6"/>
<rect x="323.911" y="361.80" width="18.3111" height="8.30" fill="#ffb3b3"/>
<rect x="323.911" y="369.80" width="18.3111" height="8.30" fill="#ff8080"/>
<rect x="323.911" y="377.80" width="18.3111" height="8.30" fill="#ff3333"/>
<rect x="323.911" y="385.80" width="18.3111" height="8.30" fill="#ff0d0d"/>
<rect x="323.911" y="393.80" width="18.3111" height="8.30" fill="#fc0100"/>
<rect x="323.911" y="401.80" width="18.3111" height="8.30" fill="#f20500"/>
<rect x="323.911" y="409.80" width="18.3111" height="8.30" fill="#e90900"/>
<rect x="323.911" y="417.80" width="18.3111" height="8.30" fill="#e20b00"/>
<rect x="323.911" y="425.80" width="18.3111" height="32.30" fill="#dc0e00"/>
<rect x="323.911" y="457.80" width="18.3111" height="8.30" fill="#df0c00"/>
<rect x="323.911" y="465.80" width="18.3111" height="8.30" fill="#e20b00"/>
<rect x="323.911" y="473.80" width="18.3111" height="8.30" fill="#e90900"/>
<rect x="323.911" y="481.80" width="18.3111" height="8.30" fill="#ef0600"/>
<rect x="323.911" y="489.80" width="18.3111" height="8.30" fill="#f90300"/>
<rect x="323.911" y="497.80" width="18.3111" height="8.30" fill="#ff1919"/>
<rect x="323.911" y="505.80" width="18.3111" height="8.30" fill="#ff4c4c"/>
<rect x="323.911" y="513.80" width="18.3111" height="16.30" fill="#ff8080"/>
<rect x="323.911" y="529.80" width="18.3111" height="8.30" fill="#ff5959"/>
<rect x="323.911" y="537.80" width="18.3111" height="8.30" fill="#ff1919"/>
<rect x="323.911" y="545.80" width="18.3111" height="8.30" fill="#ef0600"/>
<rect x="323.911" y="553.80" width="18.3111" height="8.30" fill="#d61000"/>
<rect x="323.911" y="561.80" width="18.3111" height="8.30" fill="#cc7000"/>
<rect x="323.911" y="569.80" width="18.3111" height="8.30" fill="#a6c000"/>
<rect x="323.911" y="577.80" width="18.3111" height="8.30" fill="#339a00"/>
<rect x="323.911" y="585.80" width="18.3111" height="8.30" fill="#007911"/>
<rect x="323.911" y="593.80" width="18.3111" height="8.30" fill="#004542"/>
<rect x="323.911" y="601.80" width="18.3111" height="8.30" fill="#002b5b"/>
<rect x="323.911" y="609.80" width="18.3111" height="8.30" fill="#00097d"/>
<rect x="323.911" y="617.80" width="18.3111" height="8.30" fill="#040081"/>
<rect x="323.911" y="625.80" width="18.3111" height="8.30" fill="#110076"/>
<rect x="323.911" y="633.80" width="18.3111" height="8.30" fill="#150072"/>
<rect x="323.911" y="641.80" width="18.3111" height="8.30" fill="#1e006a"/>
<rect x="323.911" y="649.80" width="18.3111" height="8.30" fill="#220066"/>
<rect x="323.911" y="657.80" width="18.3111" height="8.30" fill="#2a005f"/>
<rect x="323.911" y="665.80" width="18.3111" height="8.30" fill="#330057"/>
<rect x="323.911" y="673.80" width="18.3111" height="8.30" fill="#40004c"/>
<rect x="323.911" y="681.80" width="18.3111" height="136.30" fill="#030003"/>
<rect x="341.922" y="169.80" width="18.3111" height="8.30" fill="#3a003e"/>
<rect x="341.922" y="177.80" width="18.3111" height="8.30" fill="#3b003f"/>
<rect x="341.922" y="185.80" width="18.3111" height="8.30" fill="#3c0040"/>
<rect x="341.922" y="193.80" width="18.3111" height="8.30" fill="#3d0041"/>
<rect x="341.922" y="201.80" width="18.3111" height="8.30" fill="#3e0041"/>
<rect x="341.922" y="209.80" width="18.3111" height="8.30" fill="#3f0042"/>
<rect x="341.922" y="217.80" width="18.3111" height="16.30" fill="#440048"/>
<rect x="341.922" y="233.80" width="18.3111" height="8.30" fill="#41004b"/>
<rect x="341.922" y="241.80" width="18.3111" height="8.30" fill="#370053"/>
<rect x="341.922" y="249.80" width="18.3111" height="8.30" fill="#260063"/>
<rect x="341.922" y="257.80" width="18.3111" height="8.30" fill="#110076"/>
<rect x="341.922" y="265.80" width="18.3111" height="8.30" fill="#000085"/>
<rect x="341.922" y="273.80" width="18.3111" height="8.30" fill="#003453"/>
<rect x="341.922" y="281.80" width="18.3111" height="8.30" fill="#007911"/>
<rect x="341.922" y="289.80" width="18.3111" height="8.30" fill="#66ab00"/>
<rect x="341.922" y="297.80" width="18.3111" height="8.30" fill="#cc8f00"/>
<rect x="341.922" y="305.80" width="18.3111" height="8.30" fill="#cc1400"/>
<rect x="341.922" y="313.80" width="18.3111" height="8.30" fill="#f20500"/>
<rect x="341.922" y="321.80" width="18.3111" height="8.30" fill="#ff1919"/>
<rect x="341.922" y="329.80" width="18.3111" height="8.30" fill="#ff4c4c"/>
<rect x="341.922" y="337.80" width="18.3111" height="24.30" fill="#ff6666"/>
<rect x="341.922" y="361.80" width="18.3111" height="8.30" fill="#ff4c4c"/>
<rect x="341.922" y="369.80" width="18.3111" height="8.30" fill="#ff3333"/>
<rect x="341.922" y="377.80" width="18.3111" height="8.30" fill="#ff0000"/>
<rect x="341.922" y="385.80" width="18.3111" height="8.30" fill="#f90300"/>
<rect x="341.922" y="393.80" width="18.3111" height="8.30" fill="#ef0600"/>
<rect x="341.922" y="401.80" width="18.3111" height="8.30" fill="#e60a00"/>
<rect x="341.922" y="409.80" width="18.3111" height="8.30" fill="#d21100"/>
<rect x="341.922" y="417.80" width="18.3111" height="8.30" fill="#cc1e00"/>
<rect x="341.922" y="425.80" width="18.3111" height="8.30" fill="#cc3d00"/>
<rect x="341.922" y="433.80" width="18.3111" height="16.30" fill="#cc5100"/>
<rect x="341.922" y="449.80" width="18.3111" height="8.30" fill="#cc4700"/>
<rect x="341.922" y="457.80" width="18.3111" height="8.30" fill="#cc2800"/>
<rect x="341.922" y="465.80" width="18.3111" height="8.30" fill="#d61000"/>
<rect x="341.922" y="473.80" width="18.3111" height="8.30" fill="#df0c00"/>
<rect x="341.922" y="481.80" width="18.3111" height="8.30" fill="#e90900"/>
<rect x="341.922" y="489.80" width="18.3111" height="8.30" fill="#f50400"/>
<rect x="341.922" y="497.80" width="18.3111" height="8.30" fill="#ff0d0d"/>
<rect x="341.922" y="505.80" width="18.3111" height="8.30" fill="#ff4c4c"/>
<rect x="341.922" y="513.80" width="18.3111" height="16.30" fill="#ff7373"/>
<rect x="341.922" y="529.80" width="18.3111" height="8.30" fill="#ff4c4c"/>
<rect x="341.922" y="537.80" width="18.3111" height="8.30" fill="#ff0000"/>
<rect x="341.922" y="545.80" width="18.3111" height="8.30" fill="#ec0800"/>
<rect x="341.922" y="553.80" width="18.3111" height="8.30" fill="#cf1300"/>
<rect x="341.922" y="561.80" width="18.3111" height="8.30" fill="#ccb800"/>
<rect x="341.922" y="569.80" width="18.3111" height="8.30" fill="#73af00"/>
<rect x="341.922" y="577.80" width="18.3111" height="8.30" fill="#0d8e00"/>
<rect x="341.922" y="585.80" width="18.3111" height="8.30" fill="#005632"/>
<rect x="341.922" y="593.80" width="18.3111" height="8.30" fill="#002b5b"/>
<rect x="341.922" y="601.80" width="18.3111" height="8.30" fill="#000085"/>
<rect x="341.922" y="609.80" width="18.3111" height="8.30" fill="#09007d"/>
<rect x="341.922" y="617.80" width="18.3111" height="8.30" fill="#110076"/>
<rect x="341.922" y="625.80" width="18.3111" height="8.30" fill="#1a006e"/>
<rect x="341.922" y="633.80" width="18.3111" height="8.30" fill="#220066"/>
<rect x="341.922" y="641.80" width="18.3111" height="8.30" fill="#260063"/>
<rect x="341.922" y="649.80" width="18.3111" height="8.30" fill="#2a005f"/>
<rect x="341.922" y="657.80" width="18.3111" height="8.30" fill="#330057"/>
<rect x="341.922" y="665.80" width="18.3111" height="8.30" fill="#3c0050"/>
<rect x="341.922" y="673.80" width="18.3111" height="8.30" fill="#430049"/>
<rect x="341.922" y="681.80" width="18.3111" height="136.30" fill="#030003"/>
<rect x="359.933" y="169.80" width="18.3111" height="8.30" fill="#320035"/>
<rect x="359.933" y="177.80" width="18.3111" height="16.30" fill="#330036"/>
<rect x="359.933" y="193.80" width="18.3111" height="8.30" fill="#340037"/>
<rect x="359.933" y="201.80" width="18.3111" height="8.30" fill="#340038"/>
<rect x="359.933" y="209.80" width="18.3111" height="16.30" fill="#350038"/>
<rect x="359.933" y="225.80" width="18.3111" height="8.30" fill="#360039"/>
<rect x="359.933" y="233.80" width="18.3111" height="8.30" fill="#3f0042"/>
<rect x="359.933" y="241.80" width="18.3111" height="8.30" fill="#440048"/>
<rect x="359.933" y="249.80" width="18.3111" height="8.30" fill="#41004b"/>
<rect x="359.933" y="257.80" width="18.3111" height="8.30" fill="#330057"/>
<rect x="359.933" y="265.80" width="18.3111" height="8.30" fill="#220066"/>
<rect x="359.933" y="273.80" width="18.3111" height="8.30" fill="#0d007a"/>
<rect x="359.933" y="281.80" width="18.3111" height="8.30" fill="#001a6c"/>
<rect x="359.933" y="289.80" width="18.3111" height="8.30" fill="#006821"/>
<rect x="359.933" y="297.80" width="18.3111" height="8.30" fill="#409f00"/>
<rect x="359.933" y="305.80" width="18.3111" height="8.30" fill="#cccc00"/>
<rect x="359.933" y="313.80" width="18.3111" height="8.30" fill="#cc5100"/>
<rect x="359.933" y="321.80" width="18.3111" height="8.30" fill="#d21100"/>
<rect x="359.933" y="329.80" width="18.3111" height="8.30" fill="#df0c00"/>
<rect x="359.933" y="337.80" width="18.3111" height="8.30" fill="#e20b00"/>
<rect x="359.933" y="345.80" width="18.3111" height="8.30" fill="#e40b00"/>
<rect x="359.933" y="353.80" width="18.3111" height="8.30" fill="#e60a00"/>
<rect x="359.933" y="361.80" width="18.3111" height="8.30" fill="#e90900"/>
<rect x="359.933" y="369.80" width="18.3111" height="8.30" fill="#e70900"/>
<rect x="359.933" y="377.80" width="18.3111" height="8.30" fill="#e60a00"/>
<rect x="359.933" y="385.80" width="18.3111" height="8.30" fill="#e20b00"/>
<rect x="359.933" y="393.80" width="18.3111" height="8.30" fill="#d90f00"/>
<rect x="359.933" y="401.80" width="18.3111" height="8.30" fill="#cf1300"/>
<rect x="359.933" y="409.80" width="18.3111" height="8.30" fill="#cc3300"/>
<rect x="359.933" y="417.80" width="18.3111" height="8.30" fill="#cc5100"/>
<rect x="359.933" y="425.80" width="18.3111" height="8.30" fill="#cc6600"/>
<rect x="359.933" y="433.80" width="18.3111" height="24.30" fill="#cc7000"/>
<rect x="359.933" y="457.80" width="18.3111" height="8.30" fill="#cc5100"/>
<rect x="359.933" y="465.80" width="18.3111" height="8.30" fill="#cc2800"/>
<rect x="359.933" y="473.80" width="18.3111" height="8.30" fill="#d21100"/>
<rect x="359.933" y="481.80" width="18.3111" height="8.30" fill="#df0c00"/>
<rect x="359.933" y="489.80" width="18.3111" height="8.30" fill="#ec0800"/>
<rect x="359.933" y="497.80" width="18.3111" height="8.30" fill="#fc0100"/>
<rect x="359.933" y="505.80" width="18.3111" height="8.30" fill="#ff2626"/>
<rect x="359.933" y="513.80" width="18.3111" height="16.30" fill="#ff4c4c"/>
<rect x="359.933" y="529.80" width="18.3111" height="8.30" fill="#ff2626"/>
<rect x="359.933" y="537.80" width="18.3111" height="8.30" fill="#fc0100"/>
<rect x="359.933" y="545.80" width="18.3111" height="8.30" fill="#e60a00"/>
<rect x="359.933" y="553.80" width="18.3111" height="8.30" fill="#cc3d00"/>
<rect x="359.933" y="561.80" width="18.3111" height="8.30" fill="#cccc00"/>
<rect x="359.933" y="569.80" width="18.3111" height="8.30" fill="#409f00"/>
<rect x="359.933" y="577.80" width="18.3111" height="8.30" fill="#007019"/>
<rect x="359.933" y="585.80" width="18.3111" height="8.30" fill="#003c4b"/>
<rect x="359.933" y="593.80" width="18.3111" height="8.30" fill="#001174"/>
<rect x="359.933" y="601.80" width="18.3111" height="8.30" fill="#09007d"/>
<rect x="359.933" y="609.80" width="18.3111" height="8.30" fill="#110076"/>
<rect x="359.933" y="617.80" width="18.3111" height="8.30" fill="#1a006e"/>
<rect x="359.933" y="625.80" width="18.3111" height="8.30" fill="#220066"/>
<rect x="359.933" y="633.80" width="18.3111" height="8.30" fill="#2a005f"/>
<rect x="359.933" y="641.80" width="18.3111" height="8.30" fill="#2f005b"/>
<rect x="359.933" y="649.80" width="18.3111" height="8.30" fill="#330057"/>
<rect x="359.933" y="657.80" width="18.3111" height="8.30" fill="#3c0050"/>
<rect x="359.933" y="665.80" width="18.3111" height="8.30" fill="#430047"/>
<rect x="359.933" y="673.80" width="18.3111" height="8.30" fill="#400044"/>
<rect x="359.933" y="681.80" width="18.3111" height="8.30" fill="#3a003d"/>
<rect x="359.933" y="689.80" width="18.3111" height="128.30" fill="#030003"/>
<rect x="377.944" y="169.80" width="18.3111" height="8.30" fill="#29002c"/>
<rect x="377.944" y="177.80" width="18.3111" height="16.30" fill="#2a002d"/>
<rect x="377.944" y="193.80" width="18.3111" height="8.30" fill="#2b002e"/>
<rect x="377.944" y="201.80" width="18.3111" height="16.30" fill="#2c002f"/>
<rect x="377.944" y="217.80" width="18.3111" height="16.30" fill="#2d002f"/>
<rect x="377.944" y="233.80" width="18.3111" height="8.30" fill="#2e0030"/>
<rect x="377.944" y="241.80" width="18.3111" height="16.30" fill="#360039"/>
<rect x="377.944" y="257.80" width="18.3111" height="8.30" fill="#440048"/>
<rect x="377.944" y="265.80" width="18.3111" height="8.30" fill="#3c0050"/>
<rect x="377.944" y="273.80" width="18.3111" height="8.30" fill="#2a005f"/>
<rect x="377.944" y="281.80" width="18.3111" height="8.30" fill="#110076"/>
<rect x="377.944" y="289.80" width="18.3111" height="8.30" fill="#001a6c"/>
<rect x="377.944" y="297.80" width="18.3111" height="8.30" fill="#006821"/>
<rect x="377.944" y="305.80" width="18.3111" height="8.30" fill="#339a00"/>
<rect x="377.944" y="313.80" width="18.3111" height="8.30" fill="#99bc00"/>
<rect x="377.944" y="321.80" width="18.3111" height="8.30" fill="#ccb800"/>
<rect x="377.944" y="329.80" width="18.3111" height="8.30" fill="#cc8f00"/>
<rect x="377.944" y="337.80" width="18.3111" height="8.30" fill="#cc7000"/>
<rect x="377.944" y="345.80" width="18.3111" height="8.30" fill="#cc6000"/>
<rect x="377.944" y="353.80" width="18.3111" height="8.30" fill="#cc5e00"/>
<rect x="377.944" y="361.80" width="18.3111" height="8.30" fill="#cc5a00"/>
<rect x="377.944" y="369.80" width="18.3111" height="8.30" fill="#cc5700"/>
<rect x="377.944" y="377.80" width="18.3111" height="16.30" fill="#cc6600"/>
<rect x="377.944" y="393.80" width="18.3111" height="8.30" fill="#cc7a00"/>
<rect x="377.944" y="401.80" width="18.3111" height="8.30" fill="#cc7000"/>
<rect x="377.944" y="409.80" width="18.3111" height="8.30" fill="#cc7a00"/>
<rect x="377.944" y="417.80" width="18.3111" height="8.30" fill="#cc8400"/>
<rect x="377.944" y="425.80" width="18.3111" height="32.30" fill="#cc8f00"/>
<rect x="377.944" y="457.80" width="18.3111" height="8.30" fill="#cc7a00"/>
<rect x="377.944" y="465.80" width="18.3111" height="8.30" fill="#cc5100"/>
<rect x="377.944" y="473.80" width="18.3111" height="8.30" fill="#cc1e00"/>
<rect x="377.944" y="481.80" width="18.3111" height="8.30" fill="#d61000"/>
<rect x="377.944" y="489.80" width="18.3111" height="8.30" fill="#e60a00"/>
<rect x="377.944" y="497.80" width="18.3111" height="8.30" fill="#f20500"/>
<rect x="377.944" y="505.80" width="18.3111" height="8.30" fill="#fc0100"/>
<rect x="377.944" y="513.80" width="18.3111" height="16.30" fill="#ff0000"/>
<rect x="377.944" y="529.80" width="18.3111" height="8.30" fill="#f90300"/>
<rect x="377.944" y="537.80" width="18.3111" height="8.30" fill="#e90900"/>
<rect x="377.944" y="545.80" width="18.3111" height="8.30" fill="#cf1300"/>
<rect x="377.944" y="553.80" width="18.3111" height="8.30" fill="#cc9900"/>
<rect x="377.944" y="561.80" width="18.3111" height="8.30" fill="#73af00"/>
<rect x="377.944" y="569.80" width="18.3111" height="8.30" fill="#008a00"/>
<rect x="377.944" y="577.80" width="18.3111" height="8.30" fill="#004e3a"/>
<rect x="377.944" y="585.80" width="18.3111" height="8.30" fill="#002264"/>
<rect x="377.944" y="593.80" width="18.3111" height="8.30" fill="#00097d"/>
<rect x="377.944" y="601.80" width="18.3111" height="8.30" fill="#110076"/>
<rect x="377.944" y="609.80" width="18.3111" height="8.30" fill="#1a006e"/>
<rect x="377.944" y="617.80" width="18.3111" height="8.30" fill="#220066"/>
<rect x="377.944" y="625.80" width="18.3111" height="8.30" fill="#2a005f"/>
<rect x="377.944" y="633.80" width="18.3111" height="8.30" fill="#330057"/>
<rect x="377.944" y="641.80" width="18.3111" height="8.30" fill="#370053"/>
<rect x="377.944" y="649.80" width="18.3111" height="8.30" fill="#3c0050"/>
<rect x="377.944" y="657.80" width="18.3111" height="8.30" fill="#430047"/>
<rect x="377.944" y="665.80" width="18.3111" height="8.30" fill="#400044"/>
<rect x="377.944" y="673.80" width="18.3111" height="8.30" fill="#3d0041"/>
<rect x="377.944" y="681.80" width="18.3111" height="8.30" fill="#360039"/>
<rect x="377.944" y="689.80" width="18.3111" height="128.30" fill="#030003"/>
<rect x="395.956" y="169.80" width="18.3111" height="8.30" fill="#210023"/>
<rect x="395.956" y="177.80" width="18.3111" height="24.30" fill="#220024"/>
<rect x="395.956" y="201.80" width="18.3111" height="8.30" fill="#230025"/>
<rect x="395.956" y="209.80" width="18.3111" height="24.30" fill="#230026"/>
<rect x="395.956" y="233.80" width="18.3111" height="8.30" fill="#240026"/>
<rect x="395.956" y="241.80" width="18.3111" height="16.30" fill="#250027"/>
<rect x="395.956" y="257.80" width="18.3111" height="8.30" fill="#2e0030"/>
<rect x="395.956" y="265.80" width="18.3111" height="8.30" fill="#3f0042"/>
<rect x="395.956" y="273.80" width="18.3111" height="8.30" fill="#41004b"/>
<rect x="395.956" y="281.80" width="18.3111" height="8.30" fill="#330057"/>
<rect x="395.956" y="289.80" width="18.3111" height="8.30" fill="#1a006e"/>
<rect x="395.956" y="297.80" width="18.3111" height="8.30" fill="#00097d"/>
<rect x="395.956" y="305.80" width="18.3111" height="8.30" fill="#004542"/>
<rect x="395.956" y="313.80" width="18.3111" height="8.30" fill="#008a00"/>
<rect x="395.956" y="321.80" width="18.3111" height="8.30" fill="#409f00"/>
<rect x="395.956" y="329.80" width="18.3111" height="8.30" fill="#73af00"/>
<rect x="395.956" y="337.80" width="18.3111" height="8.30" fill="#99bc00"/>
<rect x="395.956" y="345.80" width="18.3111" height="8.30" fill="#b2c400"/>
<rect x="395.956" y="353.80" width="18.3111" height="32.30" fill="#cccc00"/>
<rect x="395.956" y="385.80" width="18.3111" height="56.30" fill="#b2c400"/>
<rect x="395.956" y="441.80" width="18.3111" height="8.30" fill="#ccc200"/>
<rect x="395.956" y="449.80" width="18.3111" height="8.30" fill="#ccad00"/>
<rect x="395.956" y="457.80" width="18.3111" height="8.30" fill="#cc9900"/>
<rect x="395.956" y="465.80" width="18.3111" height="8.30" fill="#cc7a00"/>
<rect x="395.956" y="473.80" width="18.3111" height="8.30" fill="#cc5100"/>
<rect x="395.956" y="481.80" width="18.3111" height="8.30" fill="#cc2800"/>
<rect x="395.956" y="489.80" width="18.3111" height="8.30" fill="#d61000"/>
<rect x="395.956" y="497.80" width="18.3111" height="8.30" fill="#df0c00"/>
<rect x="395.956" y="505.80" width="18.3111" height="8.30" fill="#e60a00"/>
<rect x="395.956" y="513.80" width="18.3111" height="16.30" fill="#e90900"/>
<rect x="395.956" y="529.80" width="18.3111" height="8.30" fill="#e20b00"/>
<rect x="395.956" y="537.80" width="18.3111" height="8.30" fill="#d61000"/>
<rect x="395.956" y="545.80" width="18.3111" height="8.30" fill="#cc6600"/>
<rect x="395.956" y="553.80" width="18.3111" height="8.30" fill="#a6c000"/>
<rect x="395.956" y="561.80" width="18.3111" height="8.30" fill="#269600"/>
<rect x="395.956" y="569.80" width="18.3111" height="8.30" fill="#005f2a"/>
<rect x="395.956" y="577.80" width="18.3111" height="8.30" fill="#002b5b"/>
<rect x="395.956" y="585.80" width="18.3111" height="8.30" fill="#00097d"/>
<rect x="395.956" y="593.80" width="18.3111" height="8.30" fill="#040081"/>
<rect x="395.956" y="601.80" width="18.3111" height="8.30" fill="#1a006e"/>
<rect x="395.956" y="609.80" width="18.3111" height="8.30" fill="#220066"/>
<rect x="395.956" y="617.80" width="18.3111" height="8.30" fill="#2a005f"/>
<rect x="395.956" y="625.80" width="18.3111" height="8.30" fill="#330057"/>
<rect x="395.956" y="633.80" width="18.3111" height="8.30" fill="#3c0050"/>
<rect x="395.956" y="641.80" width="18.3111" height="8.30" fill="#440048"/>
<rect x="395.956" y="649.80" width="18.3111" height="8.30" fill="#430047"/>
<rect x="395.956" y="657.80" width="18.3111" height="8.30" fill="#3d0041"/>
<rect x="395.956" y="665.80" width="18.3111" height="8.30" fill="#3a003d"/>
<rect x="395.956" y="673.80" width="18.3111" height="8.30" fill="#360039"/>
<rect x="395.956" y="681.80" width="18.3111" height="8.30" fill="#320035"/>
<rect x="395.956" y="689.80" width="18.3111" height="8.30" fill="#2f0031"/>
<rect x="395.956" y="697.80" width="18.3111" height="120.30" fill="#030003"/>
<rect x="413.967" y="169.80" width="18.3111" height="16.30" fill="#19001a"/>
<rect x="413.967" y="185.80" width="18.3111" height="16.30" fill="#19001b"/>
<rect x="413.967" y="201.80" width="18.3111" height="16.30" fill="#1a001c"/>
<rect x="413.967" y="217.80" width="18.3111" height="16.30" fill="#1b001d"/>
<rect x="413.967" y="233.80" width="18.3111" height="16.30" fill="#1c001e"/>
<rect x="413.967" y="249.80" width="18.3111" height="16.30" fill="#1d001e"/>
<rect x="413.967" y="265.80" width="18.3111" height="8.30" fill="#250027"/>
<rect x="413.967" y="273.80" width="18.3111" height="8.30" fill="#2e0030"/>
<rect x="413.967" y="281.80" width="18.3111" height="8.30" fill="#440048"/>
<rect x="413.967" y="289.80" width="18.3111" height="8.30" fill="#3c0050"/>
<rect x="413.967" y="297.80" width="18.3111" height="8.30" fill="#260063"/>
<rect x="413.967" y="305.80" width="18.3111" height="8.30" fill="#09007d"/>
<rect x="413.967" y="313.80" width="18.3111" height="8.30" fill="#002264"/>
<rect x="413.967" y="321.80" width="18.3111" height="8.30" fill="#005632"/>
<rect x="413.967" y="329.80" width="18.3111" height="8.30" fill="#008108"/>
<rect x="413.967" y="337.80" width="18.3111" height="8.30" fill="#1a9200"/>
<rect x="413.967" y="345.80" width="18.3111" height="8.30" fill="#339a00"/>
<rect x="413.967" y="353.80" width="18.3111" height="8.30" fill="#409f00"/>
<rect x="413.967" y="361.80" width="18.3111" height="8.30" fill="#45a000"/>
<rect x="413.967" y="369.80" width="18.3111" height="8.30" fill="#47a100"/>
<rect x="413.967" y="377.80" width="18.3111" height="56.30" fill="#4da300"/>
<rect x="413.967" y="433.80" width="18.3111" height="8.30" fill="#59a700"/>
<rect x="413.967" y="441.80" width="18.3111" height="8.30" fill="#66ab00"/>
<rect x="413.967" y="449.80" width="18.3111" height="8.30" fill="#80b300"/>
<rect x="413.967" y="457.80" width="18.3111" height="8.30" fill="#99bc00"/>
<rect x="413.967" y="465.80" width="18.3111" height="8.30" fill="#bfc800"/>
<rect x="413.967" y="473.80" width="18.3111" height="8.30" fill="#ccb800"/>
<rect x="413.967" y="481.80" width="18.3111" height="8.30" fill="#cc9900"/>
<rect x="413.967" y="489.80" width="18.3111" height="8.30" fill="#cc7000"/>
<rect x="413.967" y="497.80" width="18.3111" height="8.30" fill="#cc3d00"/>
<rect x="413.967" y="505.80" width="18.3111" height="8.30" fill="#cc1400"/>
<rect x="413.967" y="513.80" width="18.3111" height="16.30" fill="#d21100"/>
<rect x="413.967" y="529.80" width="18.3111" height="8.30" fill="#cc1400"/>
<rect x="413.967" y="537.80" width="18.3111" height="8.30" fill="#cc4700"/>
<rect x="413.967" y="545.80" width="18.3111" height="8.30" fill="#cca300"/>
<rect x="413.967" y="553.80" width="18.3111" height="8.30" fill="#66ab00"/>
<rect x="413.967" y="561.80" width="18.3111" height="8.30" fill="#008108"/>
<rect x="413.967" y="569.80" width="18.3111" height="8.30" fill="#004542"/>
<rect x="413.967" y="577.80" width="18.3111" height="8.30" fill="#001a6c"/>
<rect x="413.967" y="585.80" width="18.3111" height="8.30" fill="#000085"/>
<rect x="413.967" y="593.80" width="18.3111" height="8.30" fill="#09007d"/>
<rect x="413.967" y="601.80" width="18.3111" height="8.30" fill="#220066"/>
<rect x="413.967" y="609.80" width="18.3111" height="8.30" fill="#2a005f"/>
<rect x="413.967" y="617.80" width="18.3111" height="8.30" fill="#330057"/>
<rect x="413.967" y="625.80" width="18.3111" height="8.30" fill="#3c0050"/>
<rect x="413.967" y="633.80" width="18.3111" height="8.30" fill="#440048"/>
<rect x="413.967" y="641.80" width="18.3111" height="8.30" fill="#430047"/>
<rect x="413.967" y="649.80" width="18.3111" height="8.30" fill="#3d0041"/>
<rect x="413.967" y="657.80" width="18.3111" height="8.30" fill="#3a003d"/>
<rect x="413.967" y="665.80" width="18.3111" height="8.30" fill="#360039"/>
<rect x="413.967" y="673.80" width="18.3111" height="8.30" fill="#320035"/>
<rect x="413.967" y="681.80" width="18.3111" height="8.30" fill="#2f0031"/>
<rect x="413.967" y="689.80" width="18.3111" height="8.30" fill="#2b002e"/>
<rect x="413.967" y="697.80" width="18.3111" height="120.30" fill="#030003"/>
<rect x="431.978" y="169.80" width="18.3111" height="112.30" fill="#140016"/>
<rect x="431.978" y="281.80" width="18.3111" height="8.30" fill="#1d001e"/>
<rect x="431.978" y="289.80" width="18.3111" height="8.30" fill="#2e0030"/>
<rect x="431.978" y="297.80" width="18.3111" height="8.30" fill="#440048"/>
<rect x="431.978" y="305.80" width="18.3111" height="8.30" fill="#370053"/>
<rect x="431.978" y="313.80" width="18.3111" height="8.30" fill="#220066"/>
<rect x="431.978" y="321.80" width="18.3111" height="8.30" fill="#040081"/>
<rect x="431.978" y="329.80" width="18.3111" height="8.30" fill="#001174"/>
<rect x="431.978" y="337.80" width="18.3111" height="8.30" fill="#003453"/>
<rect x="431.978" y="345.80" width="18.3111" height="8.30" fill="#004e3a"/>
<rect x="431.978" y="353.80" width="18.3111" height="8.30" fill="#005f2a"/>
<rect x="431.978" y="361.80" width="18.3111" height="8.30" fill="#007019"/>
<rect x="431.978" y="369.80" width="18.3111" height="8.30" fill="#007514"/>
<rect x="431.978" y="377.80" width="18.3111" height="8.30" fill="#007911"/>
<rect x="431.978" y="385.80" width="18.3111" height="48.30" fill="#008108"/>
<rect x="431.978" y="433.80" width="18.3111" height="24.30" fill="#008a00"/>
<rect x="431.978" y="457.80" width="18.3111" height="8.30" fill="#1a9200"/>
<rect x="431.978" y="465.80" width="18.3111" height="8.30" fill="#339a00"/>
<rect x="431.978" y="473.80" width="18.3111" height="8.30" fill="#4da300"/>
<rect x="431.978" y="481.80" width="18.3111" height="8.30" fill="#73af00"/>
<rect x="431.978" y="489.80" width="18.3111" height="8.30" fill="#99bc00"/>
<rect x="431.978" y="497.80" width="18.3111" height="8.30" fill="#ccc200"/>
<rect x="431.978" y="505.80" width="18.3111" height="8.30" fill="#cc9900"/>
<rect x="431.978" y="513.80" width="18.3111" height="8.30" fill="#cc6600"/>
<rect x="431.978" y="521.80" width="18.3111" height="8.30" fill="#cc5c00"/>
<rect x="431.978" y="529.80" width="18.3111" height="8.30" fill="#cc6600"/>
<rect x="431.978" y="537.80" width="18.3111" height="8.30" fill="#cc8f00"/>
<rect x="431.978" y="545.80" width="18.3111" height="8.30" fill="#bfc800"/>
<rect x="431.978" y="553.80" width="18.3111" height="8.30" fill="#409f00"/>
<rect x="431.978" y="561.80" width="18.3111" height="8.30" fill="#007019"/>
<rect x="431.978" y="569.80" width="18.3111" height="8.30" fill="#003c4b"/>
<rect x="431.978" y="577.80" width="18.3111" height="8.30" fill="#001174"/>
<rect x="431.978" y="585.80" width="18.3111" height="8.30" fill="#040081"/>
<rect x="431.978" y="593.80" width="18.3111" height="8.30" fill="#0d007a"/>
<rect x="431.978" y="601.80" width="18.3111" height="8.30" fill="#260063"/>
<rect x="431.978" y="609.80" width="18.3111" height="8.30" fill="#2f005b"/>
<rect x="431.978" y="617.80" width="18.3111" height="8.30" fill="#370053"/>
<rect x="431.978" y="625.80" width="18.3111" height="8.30" fill="#440048"/>
<rect x="431.978" y="633.80" width="18.3111" height="8.30" fill="#400044"/>
<rect x="431.978" y="641.80" width="18.3111" height="8.30" fill="#3a003d"/>
<rect x="431.978" y="649.80" width="18.3111" height="8.30" fill="#360039"/>
<rect x="431.978" y="657.80" width="18.3111" height="8.30" fill="#2f0031"/>
<rect x="431.978" y="665.80" width="18.3111" height="16.30" fill="#2b002e"/>
<rect x="431.978" y="681.80" width="18.3111" height="16.30" fill="#270029"/>
<rect x="431.978" y="697.80" width="18.3111" height="8.30" fill="#230026"/>
<rect x="431.978" y="705.80" width="18.3111" height="112.30" fill="#030003"/>
<rect x="449.989" y="169.80" width="18.3111" height="120.30" fill="#0f0010"/>
<rect x="449.989" y="289.80" width="18.3111" height="8.30" fill="#19001a"/>
<rect x="449.989" y="297.80" width="18.3111" height="8.30" fill="#250027"/>
<rect x="449.989" y="305.80" width="18.3111" height="8.30" fill="#360039"/>
<rect x="449.989" y="313.80" width="18.3111" height="8.30" fill="#430049"/>
<rect x="449.989" y="321.80" width="18.3111" height="8.30" fill="#370053"/>
<rect x="449.989" y="329.80" width="18.3111" height="8.30" fill="#260063"/>
<rect x="449.989" y="337.80" width="18.3111" height="8.30" fill="#150072"/>
<rect x="449.989" y="345.80" width="18.3111" height="8.30" fill="#040081"/>
<rect x="449.989" y="353.80" width="18.3111" height="8.30" fill="#00097d"/>
<rect x="449.989" y="361.80" width="18.3111" height="8.30" fill="#001a6c"/>
<rect x="449.989" y="369.80" width="18.3111" height="8.30" fill="#002b5b"/>
<rect x="449.989" y="377.80" width="18.3111" height="64.30" fill="#003453"/>
<rect x="449.989" y="441.80" width="18.3111" height="16.30" fill="#004e3a"/>
<rect x="449.989" y="457.80" width="18.3111" height="8.30" fill="#005f2a"/>
<rect x="449.989" y="465.80" width="18.3111" height="8.30" fill="#007019"/>
<rect x="449.989" y="473.80" width="18.3111" height="8.30" fill="#008108"/>
<rect x="449.989" y="481.80" width="18.3111" height="8.30" fill="#0d8e00"/>
<rect x="449.989" y="489.80" width="18.3111" height="8.30" fill="#339a00"/>
<rect x="449.989" y="497.80" width="18.3111" height="8.30" fill="#59a700"/>
<rect x="449.989" y="505.80" width="18.3111" height="8.30" fill="#8cb700"/>
<rect x="449.989" y="513.80" width="18.3111" height="8.30" fill="#bfc800"/>
<rect x="449.989" y="521.80" width="18.3111" height="16.30" fill="#ccc200"/>
<rect x="449.989" y="537.80" width="18.3111" height="8.30" fill="#bfc800"/>
<rect x="449.989" y="545.80" width="18.3111" height="8.30" fill="#80b300"/>
<rect x="449.989" y="553.80" width="18.3111" height="8.30" fill="#269600"/>
<rect x="449.989" y="561.80" width="18.3111" height="8.30" fill="#006821"/>
<rect x="449.989" y="569.80" width="18.3111" height="8.30" fill="#003453"/>
<rect x="449.989" y="577.80" width="18.3111" height="8.30" fill="#00097d"/>
<rect x="449.989" y="585.80" width="18.3111" height="8.30" fill="#09007d"/>
<rect x="449.989" y="593.80" width="18.3111" height="8.30" fill="#110076"/>
<rect x="449.989" y="601.80" width="18.3111" height="8.30" fill="#260063"/>
<rect x="449.989" y="609.80" width="18.3111" height="8.30" fill="#2f005b"/>
<rect x="449.989" y="617.80" width="18.3111" height="8.30" fill="#3c0050"/>
<rect x="449.989" y="625.80" width="18.3111" height="8.30" fill="#430047"/>
<rect x="449.989" y="633.80" width="18.3111" height="8.30" fill="#3a003d"/>
<rect x="449.989" y="641.80" width="18.3111" height="8.30" fill="#320035"/>
<rect x="449.989" y="649.80" width="18.3111" height="8.30" fill="#2b002e"/>
<rect x="449.989" y="657.80" width="18.3111" height="8.30" fill="#270029"/>
<rect x="449.989" y="665.80" width="18.3111" height="16.30" fill="#230026"/>
<rect x="449.989" y="681.80" width="18.3111" height="32.30" fill="#200022"/>
<rect x="449.989" y="713.80" width="18.3111" height="104.30" fill="#030003"/>
<rect x="468" y="169.80" width="18.3111" height="8.30" fill="#030003"/>
<rect x="468" y="177.80" width="18.3111" height="64.30" fill="#0b000b"/>
<rect x="468" y="241.80" width="18.3111" height="32.30" fill="#0f0010"/>
<rect x="468" y="273.80" width="18.3111" height="8.30" fill="#140016"/>
<rect x="468" y="281.80" width="18.3111" height="8.30" fill="#19001a"/>
<rect x="468" y="289.80" width="18.3111" height="8.30" fill="#1d001e"/>
<rect x="468" y="297.80" width="18.3111" height="8.30" fill="#210023"/>
<rect x="468" y="305.80" width="18.3111" height="8.30" fill="#29002c"/>
<rect x="468" y="313.80" width="18.3111" height="8.30" fill="#320035"/>
<rect x="468" y="321.80" width="18.3111" height="8.30" fill="#3f0042"/>
<rect x="468" y="329.80" width="18.3111" height="8.30" fill="#440048"/>
<rect x="468" y="337.80" width="18.3111" height="8.30" fill="#40004c"/>
<rect x="468" y="345.80" width="18.3111" height="8.30" fill="#2f005b"/>
<rect x="468" y="353.80" width="18.3111" height="8.30" fill="#1e006a"/>
<rect x="468" y="361.80" width="18.3111" height="8.30" fill="#110076"/>
<rect x="468" y="369.80" width="18.3111" height="8.30" fill="#09007d"/>
<rect x="468" y="377.80" width="18.3111" height="8.30" fill="#040081"/>
<rect x="468" y="385.80" width="18.3111" height="8.30" fill="#000085"/>
<rect x="468" y="393.80" width="18.3111" height="8.30" fill="#00097d"/>
<rect x="468" y="401.80" width="18.3111" height="24.30" fill="#001a6c"/>
<rect x="468" y="425.80" width="18.3111" height="24.30" fill="#002264"/>
<rect x="468" y="449.80" width="18.3111" height="8.30" fill="#002b5b"/>
<rect x="468" y="457.80" width="18.3111" height="8.30" fill="#003453"/>
<rect x="468" y="465.80" width="18.3111" height="8.30" fill="#004542"/>
<rect x="468" y="473.80" width="18.3111" height="8.30" fill="#005632"/>
<rect x="468" y="481.80" width="18.3111" height="8.30" fill="#006821"/>
<rect x="468" y="489.80" width="18.3111" height="8.30" fill="#007911"/>
<rect x="468" y="497.80" width="18.3111" height="8.30" fill="#0d8e00"/>
<rect x="468" y="505.80" width="18.3111" height="8.30" fill="#339a00"/>
<rect x="468" y="513.80" width="18.3111" height="8.30" fill="#59a700"/>
<rect x="468" y="521.80" width="18.3111" height="8.30" fill="#73af00"/>
<rect x="468" y="529.80" width="18.3111" height="16.30" fill="#99bc00"/>
<rect x="468" y="545.80" width="18.3111" height="8.30" fill="#8cb700"/>
<rect x="468" y="553.80" width="18.3111" height="8.30" fill="#4da300"/>
<rect x="468" y="561.80" width="18.3111" height="8.30" fill="#0d8e00"/>
<rect x="468" y="569.80" width="18.3111" height="8.30" fill="#005f2a"/>
<rect x="468" y="577.80" width="18.3111" height="8.30" fill="#003453"/>
<rect x="468" y="585.80" width="18.3111" height="8.30" fill="#00097d"/>
<rect x="468" y="593.80" width="18.3111" height="8.30" fill="#0d007a"/>
<rect x="468" y="601.80" width="18.3111" height="8.30" fill="#1a006e"/>
<rect x="468" y="609.80" width="18.3111" height="8.30" fill="#2a005f"/>
<rect x="468" y="617.80" width="18.3111" height="8.30" fill="#370053"/>
<rect x="468" y="625.80" width="18.3111" height="8.30" fill="#440048"/>
<rect x="468" y="633.80" width="18.3111" height="8.30" fill="#3b003f"/>
<rect x="468" y="641.80" width="18.3111" height="8.30" fill="#38003b"/>
<rect x="468" y="649.80" width="18.3111" height="8.30" fill="#300033"/>
<rect x="468" y="657.80" width="18.3111" height="8.30" fill="#2c002f"/>
<rect x="468" y="665.80" width="18.3111" height="8.30" fill="#270029"/>
<rect x="468" y="673.80" width="18.3111" height="8.30" fill="#260028"/>
<rect x="468" y="681.80" width="18.3111" height="8.30" fill="#250027"/>
<rect x="468" y="689.80" width="18.3111" height="8.30" fill="#29002c"/>
<rect x="468" y="697.80" width="18.3111" height="8.30" fill="#230025"/>
<rect x="468" y="705.80" width="18.3111" height="16.30" fill="#220024"/>
<rect x="468" y="721.80" width="18.3111" height="8.30" fill="#210023"/>
<rect x="468" y="729.80" width="18.3111" height="88.30" fill="#030003"/>
<rect x="486.011" y="169.80" width="18.3111" height="24.30" fill="#030003"/>
<rect x="486.011" y="193.80" width="18.3111" height="80.30" fill="#0b000b"/>
<rect x="486.011" y="273.80" width="18.3111" height="40.30" fill="#140016"/>
<rect x="486.011" y="313.80" width="18.3111" height="8.30" fill="#1d001e"/>
<rect x="486.011" y="321.80" width="18.3111" height="8.30" fill="#210023"/>
<rect x="486.011" y="329.80" width="18.3111" height="8.30" fill="#29002c"/>
<rect x="486.011" y="337.80" width="18.3111" height="8.30" fill="#320035"/>
<rect x="486.011" y="345.80" width="18.3111" height="8.30" fill="#3a003e"/>
<rect x="486.011" y="353.80" width="18.3111" height="8.30" fill="#440048"/>
<rect x="486.011" y="361.80" width="18.3111" height="8.30" fill="#40004c"/>
<rect x="486.011" y="369.80" width="18.3111" height="8.30" fill="#2f005b"/>
<rect x="486.011" y="377.80" width="18.3111" height="8.30" fill="#220066"/>
<rect x="486.011" y="385.80" width="18.3111" height="8.30" fill="#1a006e"/>
<rect x="486.011" y="393.80" width="18.3111" height="8.30" fill="#110076"/>
<rect x="486.011" y="401.80" width="18.3111" height="8.30" fill="#040081"/>
<rect x="486.011" y="409.80" width="18.3111" height="8.30" fill="#030082"/>
<rect x="486.011" y="417.80" width="18.3111" height="8.30" fill="#030083"/>
<rect x="486.011" y="425.80" width="18.3111" height="16.30" fill="#020083"/>
<rect x="486.011" y="441.80" width="18.3111" height="8.30" fill="#010084"/>
<rect x="486.011" y="449.80" width="18.3111" height="24.30" fill="#000085"/>
<rect x="486.011" y="473.80" width="18.3111" height="8.30" fill="#00097d"/>
<rect x="486.011" y="481.80" width="18.3111" height="8.30" fill="#001a6c"/>
<rect x="486.011" y="489.80" width="18.3111" height="8.30" fill="#002b5b"/>
<rect x="486.011" y="497.80" width="18.3111" height="8.30" fill="#003c4b"/>
<rect x="486.011" y="505.80" width="18.3111" height="8.30" fill="#004e3a"/>
<rect x="486.011" y="513.80" width="18.3111" height="8.30" fill="#006821"/>
<rect x="486.011" y="521.80" width="18.3111" height="8.30" fill="#008108"/>
<rect x="486.011" y="529.80" width="18.3111" height="24.30" fill="#0d8e00"/>
<rect x="486.011" y="553.80" width="18.3111" height="8.30" fill="#008108"/>
<rect x="486.011" y="561.80" width="18.3111" height="8.30" fill="#006821"/>
<rect x="486.011" y="569.80" width="18.3111" height="8.30" fill="#004542"/>
<rect x="486.011" y="577.80" width="18.3111" height="8.30" fill="#002264"/>
<rect x="486.011" y="585.80" width="18.3111" height="8.30" fill="#000085"/>
<rect x="486.011" y="593.80" width="18.3111" height="8.30" fill="#110076"/>
<rect x="486.011" y="601.80" width="18.3111" height="8.30" fill="#1e006a"/>
<rect x="486.011" y="609.80" width="18.3111" height="8.30" fill="#2a005f"/>
<rect x="486.011" y="617.80" width="18.3111" height="8.30" fill="#370053"/>
<rect x="486.011" y="625.80" width="18.3111" height="8.30" fill="#440048"/>
<rect x="486.011" y="633.80" width="18.3111" height="8.30" fill="#3b003f"/>
<rect x="486.011" y="641.80" width="18.3111" height="8.30" fill="#340037"/>
<rect x="486.011" y="649.80" width="18.3111" height="8.30" fill="#2c002f"/>
<rect x="486.011" y="657.80" width="18.3111" height="8.30" fill="#29002b"/>
<rect x="486.011" y="665.80" width="18.3111" height="8.30" fill="#230025"/>
<rect x="486.011" y="673.80" width="18.3111" height="16.30" fill="#1b001d"/>
<rect x="486.011" y="689.80" width="18.3111" height="16.30" fill="#1e001f"/>
<rect x="486.011" y="705.80" width="18.3111" height="16.30" fill="#1d001e"/>
<rect x="486.011" y="721.80" width="18.3111" height="16.30" fill="#1c001e"/>
<rect x="486.011" y="737.80" width="18.3111" height="80.30" fill="#030003"/>
<rect x="504.022" y="169.80" width="18.3111" height="32.30" fill="#030003"/>
<rect x="504.022" y="201.80" width="18.3111" height="104.30" fill="#0b000b"/>
<rect x="504.022" y="305.80" width="18.3111" height="24.30" fill="#140016"/>
<rect x="504.022" y="329.80" width="18.3111" height="8.30" fill="#1d001e"/>
<rect x="504.022" y="337.80" width="18.3111" height="8.30" fill="#210023"/>
<rect x="504.022" y="345.80" width="18.3111" height="8.30" fill="#29002c"/>
<rect x="504.022" y="353.80" width="18.3111" height="8.30" fill="#2e0030"/>
<rect x="504.022" y="361.80" width="18.3111" height="8.30" fill="#360039"/>
<rect x="504.022" y="369.80" width="18.3111" height="8.30" fill="#3f0042"/>
<rect x="504.022" y="377.80" width="18.3111" height="8.30" fill="#440048"/>
<rect x="504.022" y="385.80" width="18.3111" height="8.30" fill="#3c0050"/>
<rect x="504.022" y="393.80" width="18.3111" height="24.30" fill="#2a005f"/>
<rect x="504.022" y="417.80" width="18.3111" height="40.30" fill="#1e006a"/>
<rect x="504.022" y="457.80" width="18.3111" height="24.30" fill="#110076"/>
<rect x="504.022" y="481.80" width="18.3111" height="8.30" fill="#09007d"/>
<rect x="504.022" y="489.80" width="18.3111" height="16.30" fill="#000085"/>
<rect x="504.022" y="505.80" width="18.3111" height="8.30" fill="#001174"/>
<rect x="504.022" y="513.80" width="18.3111" height="8.30" fill="#001a6c"/>
<rect x="504.022" y="521.80" width="18.3111" height="8.30" fill="#002b5b"/>
<rect x="504.022" y="529.80" width="18.3111" height="8.30" fill="#003c4b"/>
<rect x="504.022" y="537.80" width="18.3111" height="16.30" fill="#004542"/>
<rect x="504.022" y="553.80" width="18.3111" height="8.30" fill="#003c4b"/>
<rect x="504.022" y="561.80" width="18.3111" height="8.30" fill="#002b5b"/>
<rect x="504.022" y="569.80" width="18.3111" height="8.30" fill="#001a6c"/>
<rect x="504.022" y="577.80" width="18.3111" height="8.30" fill="#000085"/>
<rect x="504.022" y="585.80" width="18.3111" height="8.30" fill="#0d007a"/>
<rect x="504.022" y="593.80" width="18.3111" height="8.30" fill="#1e006a"/>
<rect x="504.022" y="601.80" width="18.3111" height="8.30" fill="#2a005f"/>
<rect x="504.022" y="609.80" width="18.3111" height="8.30" fill="#330057"/>
<rect x="504.022" y="617.80" width="18.3111" height="8.30" fill="#3c0050"/>
<rect x="504.022" y="625.80" width="18.3111" height="8.30" fill="#430049"/>
<rect x="504.022" y="633.80" width="18.3111" height="8.30" fill="#430047"/>
<rect x="504.022" y="641.80" width="18.3111" height="8.30" fill="#320035"/>
<rect x="504.022" y="649.80" width="18.3111" height="8.30" fill="#2e0030"/>
<rect x="504.022" y="657.80" width="18.3111" height="8.30" fill="#230026"/>
<rect x="504.022" y="665.80" width="18.3111" height="8.30" fill="#210023"/>
<rect x="504.022" y="673.80" width="18.3111" height="24.30" fill="#160017"/>
<rect x="504.022" y="697.80" width="18.3111" height="32.30" fill="#150016"/>
<rect x="504.022" y="729.80" width="18.3111" height="24.30" fill="#140016"/>
<rect x="504.022" y="753.80" width="18.3111" height="64.30" fill="#030003"/>
<rect x="522.033" y="169.80" width="18.3111" height="48.30" fill="#030003"/>
<rect x="522.033" y="217.80" width="18.3111" height="88.30" fill="#0b000b"/>
<rect x="522.033" y="305.80" width="18.3111" height="40.30" fill="#140016"/>
<rect x="522.033" y="345.80" width="18.3111" height="8.30" fill="#19001a"/>
<rect x="522.033" y="353.80" width="18.3111" height="8.30" fill="#1d001e"/>
<rect x="522.033" y="361.80" width="18.3111" height="8.30" fill="#210023"/>
<rect x="522.033" y="369.80" width="18.3111" height="8.30" fill="#250027"/>
<rect x="522.033" y="377.80" width="18.3111" height="8.30" fill="#29002c"/>
<rect x="522.033" y="385.80" width="18.3111" height="8.30" fill="#360039"/>
<rect x="522.033" y="393.80" width="18.3111" height="16.30" fill="#440048"/>
<rect x="522.033" y="409.80" width="18.3111" height="24.30" fill="#40004c"/>
<rect x="522.033" y="433.80" width="18.3111" height="32.30" fill="#330057"/>
<rect x="522.033" y="465.80" width="18.3111" height="32.30" fill="#2a005f"/>
<rect x="522.033" y="497.80" width="18.3111" height="24.30" fill="#1e006a"/>
<rect x="522.033" y="521.80" width="18.3111" height="40.30" fill="#110076"/>
<rect x="522.033" y="561.80" width="18.3111" height="16.30" fill="#150072"/>
<rect x="522.033" y="577.80" width="18.3111" height="8.30" fill="#1e006a"/>
<rect x="522.033" y="585.80" width="18.3111" height="8.30" fill="#260063"/>
<rect x="522.033" y="593.80" width="18.3111" height="8.30" fill="#2f005b"/>
<rect x="522.033" y="601.80" width="18.3111" height="8.30" fill="#3c0050"/>
<rect x="522.033" y="609.80" width="18.3111" height="8.30" fill="#430047"/>
<rect x="522.033" y="617.80" width="18.3111" height="8.30" fill="#3f0042"/>
<rect x="522.033" y="625.80" width="18.3111" height="8.30" fill="#3a003e"/>
<rect x="522.033" y="633.80" width="18.3111" height="8.30" fill="#2c002f"/>
<rect x="522.033" y="641.80" width="18.3111" height="8.30" fill="#29002c"/>
<rect x="522.033" y="649.80" width="18.3111" height="8.30" fill="#1f0021"/>
<rect x="522.033" y="657.80" width="18.3111" height="8.30" fill="#1d001e"/>
<rect x="522.033" y="665.80" width="18.3111" height="32.30" fill="#130015"/>
<rect x="522.033" y="697.80" width="18.3111" height="72.30" fill="#120014"/>
<rect x="522.033" y="769.80" width="18.3111" height="48.30" fill="#030003"/>
<rect x="540.044" y="169.80" width="18.3111" height="64.30" fill="#030003"/>
<rect x="540.044" y="233.80" width="18.3111" height="80.30" fill="#0b000b"/>
<rect x="540.044" y="313.80" width="18.3111" height="32.30" fill="#0f0010"/>
<rect x="540.044" y="345.80" width="18.3111" height="16.30" fill="#140016"/>
<rect x="540.044" y="361.80" width="18.3111" height="8.30" fill="#19001a"/>
<rect x="540.044" y="369.80" width="18.3111" height="8.30" fill="#1b001d"/>
<rect x="540.044" y="377.80" width="18.3111" height="8.30" fill="#1d001e"/>
<rect x="540.044" y="385.80" width="18.3111" height="16.30" fill="#1e0020"/>
<rect x="540.044" y="401.80" width="18.3111" height="32.30" fill="#28002a"/>
<rect x="540.044" y="433.80" width="18.3111" height="8.30" fill="#29002c"/>
<rect x="540.044" y="441.80" width="18.3111" height="8.30" fill="#310034"/>
<rect x="540.044" y="449.80" width="18.3111" height="16.30" fill="#330036"/>
<rect x="540.044" y="465.80" width="18.3111" height="8.30" fill="#340038"/>
<rect x="540.044" y="473.80" width="18.3111" height="8.30" fill="#38003b"/>
<rect x="540.044" y="481.80" width="18.3111" height="40.30" fill="#39003c"/>
<rect x="540.044" y="521.80" width="18.3111" height="8.30" fill="#3a003e"/>
<rect x="540.044" y="529.80" width="18.3111" height="8.30" fill="#400044"/>
<rect x="540.044" y="537.80" width="18.3111" height="24.30" fill="#430047"/>
<rect x="540.044" y="561.80" width="18.3111" height="8.30" fill="#440048"/>
<rect x="540.044" y="569.80" width="18.3111" height="8.30" fill="#41004b"/>
<rect x="540.044" y="577.80" width="18.3111" height="16.30" fill="#40004c"/>
<rect x="540.044" y="593.80" width="18.3111" height="8.30" fill="#40004b"/>
<rect x="540.044" y="601.80" width="18.3111" height="8.30" fill="#360039"/>
<rect x="540.044" y="609.80" width="18.3111" height="8.30" fill="#330036"/>
<rect x="540.044" y="617.80" width="18.3111" height="8.30" fill="#28002a"/>
<rect x="540.044" y="625.80" width="18.3111" height="8.30" fill="#250027"/>
<rect x="540.044" y="633.80" width="18.3111" height="8.30" fill="#1d001e"/>
<rect x="540.044" y="641.80" width="18.3111" height="8.30" fill="#1b001d"/>
<rect x="540.044" y="649.80" width="18.3111" height="8.30" fill="#1a001c"/>
<rect x="540.044" y="657.80" width="18.3111" height="128.30" fill="#120014"/>
<rect x="540.044" y="785.80" width="18.3111" height="32.30" fill="#030003"/>
<rect x="558.056" y="169.80" width="18.3111" height="80.30" fill="#030003"/>
<rect x="558.056" y="249.80" width="18.3111" height="64.30" fill="#0b000b"/>
<rect x="558.056" y="313.80" width="18.3111" height="64.30" fill="#0f0010"/>
<rect x="558.056" y="377.80" width="18.3111" height="8.30" fill="#140016"/>
<rect x="558.056" y="385.80" width="18.3111" height="16.30" fill="#19001a"/>
<rect x="558.056" y="401.80" width="18.3111" height="32.30" fill="#28002a"/>
<rect x="558.056" y="433.80" width="18.3111" height="72.30" fill="#29002b"/>
<rect x="558.056" y="505.80" width="18.3111" height="40.30" fill="#29002c"/>
<rect x="558.056" y="545.80" width="18.3111" height="40.30" fill="#29002b"/>
<rect x="558.056" y="585.80" width="18.3111" height="16.30" fill="#28002a"/>
<rect x="558.056" y="601.80" width="18.3111" height="8.30" fill="#250027"/>
<rect x="558.056" y="609.80" width="18.3111" height="8.30" fill="#240026"/>
<rect x="558.056" y="617.80" width="18.3111" height="8.30" fill="#230026"/>
<rect x="558.056" y="625.80" width="18.3111" height="8.30" fill="#230025"/>
<rect x="558.056" y="633.80" width="18.3111" height="8.30" fill="#220024"/>
<rect x="558.056" y="641.80" width="18.3111" height="8.30" fill="#210023"/>
<rect x="558.056" y="649.80" width="18.3111" height="8.30" fill="#200022"/>
<rect x="558.056" y="657.80" width="18.3111" height="8.30" fill="#1e0020"/>
<rect x="558.056" y="665.80" width="18.3111" height="8.30" fill="#1e001f"/>
<rect x="558.056" y="673.80" width="18.3111" height="8.30" fill="#1d001e"/>
<rect x="558.056" y="681.80" width="18.3111" height="8.30" fill="#1c001e"/>
<rect x="558.056" y="689.80" width="18.3111" height="8.30" fill="#1b001d"/>
<rect x="558.056" y="697.80" width="18.3111" height="8.30" fill="#1a001c"/>
<rect x="558.056" y="705.80" width="18.3111" height="8.30" fill="#19001b"/>
<rect x="558.056" y="713.80" width="18.3111" height="8.30" fill="#180019"/>
<rect x="558.056" y="721.80" width="18.3111" height="8.30" fill="#170018"/>
<rect x="558.056" y="729.80" width="18.3111" height="8.30" fill="#160017"/>
<rect x="558.056" y="737.80" width="18.3111" height="8.30" fill="#150016"/>
<rect x="558.056" y="745.80" width="18.3111" height="16.30" fill="#140016"/>
<rect x="558.056" y="761.80" width="18.3111" height="8.30" fill="#130015"/>
<rect x="558.056" y="769.80" width="18.3111" height="24.30" fill="#120014"/>
<rect x="558.056" y="793.80" width="18.3111" height="8.30" fill="#110012"/>
<rect x="558.056" y="801.80" width="18.3111" height="16.30" fill="#030003"/>
<rect x="576.067" y="169.80" width="18.3111" height="96.30" fill="#030003"/>
<rect x="576.067" y="265.80" width="18.3111" height="112.30" fill="#0b000b"/>
<rect x="576.067" y="377.80" width="18.3111" height="8.30" fill="#0f0010"/>
<rect x="576.067" y="385.80" width="18.3111" height="16.30" fill="#160017"/>
<rect x="576.067" y="401.80" width="18.3111" height="24.30" fill="#170018"/>
<rect x="576.067" y="425.80" width="18.3111" height="32.30" fill="#180019"/>
<rect x="576.067" y="457.80" width="18.3111" height="24.30" fill="#19001a"/>
<rect x="576.067" y="481.80" width="18.3111" height="16.30" fill="#19001b"/>
<rect x="576.067" y="497.80" width="18.3111" height="16.30" fill="#1a001c"/>
<rect x="576.067" y="513.80" width="18.3111" height="16.30" fill="#1b001d"/>
<rect x="576.067" y="529.80" width="18.3111" height="16.30" fill="#1c001e"/>
<rect x="576.067" y="545.80" width="18.3111" height="16.30" fill="#1d001e"/>
<rect x="576.067" y="561.80" width="18.3111" height="16.30" fill="#1e001f"/>
<rect x="576.067" y="577.80" width="18.3111" height="16.30" fill="#1e0020"/>
<rect x="576.067" y="593.80" width="18.3111" height="24.30" fill="#1f0021"/>
<rect x="576.067" y="617.80" width="18.3111" height="32.30" fill="#200022"/>
<rect x="576.067" y="649.80" width="18.3111" height="32.30" fill="#210023"/>
<rect x="576.067" y="681.80" width="18.3111" height="32.30" fill="#220024"/>
<rect x="576.067" y="713.80" width="18.3111" height="16.30" fill="#230025"/>
<rect x="576.067" y="729.80" width="18.3111" height="16.30" fill="#230026"/>
<rect x="576.067" y="745.80" width="18.3111" height="24.30" fill="#240026"/>
<rect x="576.067" y="769.80" width="18.3111" height="16.30" fill="#250027"/>
<rect x="576.067" y="785.80" width="18.3111" height="16.30" fill="#260028"/>
<rect x="576.067" y="801.80" width="18.3111" height="16.30" fill="#270029"/>
<rect x="594.078" y="169.80" width="18.3111" height="112.30" fill="#030003"/>
<rect x="594.078" y="281.80" width="18.3111" height="104.30" fill="#140016"/>
<rect x="594.078" y="385.80" width="18.3111" height="16.30" fill="#1d001e"/>
<rect x="594.078" y="401.80" width="18.3111" height="24.30" fill="#1e001f"/>
<rect x="594.078" y="425.80" width="18.3111" height="32.30" fill="#1e0020"/>
<rect x="594.078" y="457.80" width="18.3111" height="24.30" fill="#1f0021"/>
<rect x="594.078" y="481.80" width="18.3111" height="16.30" fill="#200022"/>
<rect x="594.078" y="497.80" width="18.3111" height="8.30" fill="#210023"/>
<rect x="594.078" y="505.80" width="18.3111" height="8.30" fill="#230025"/>
<rect x="594.078" y="513.80" width="18.3111" height="8.30" fill="#230026"/>
<rect x="594.078" y="521.80" width="18.3111" height="8.30" fill="#240026"/>
<rect x="594.078" y="529.80" width="18.3111" height="8.30" fill="#250027"/>
<rect x="594.078" y="537.80" width="18.3111" height="8.30" fill="#270029"/>
<rect x="594.078" y="545.80" width="18.3111" height="8.30" fill="#28002a"/>
<rect x="594.078" y="553.80" width="18.3111" height="8.30" fill="#29002b"/>
<rect x="594.078" y="561.80" width="18.3111" height="8.30" fill="#29002c"/>
<rect x="594.078" y="569.80" width="18.3111" height="16.30" fill="#2a002d"/>
<rect x="594.078" y="585.80" width="18.3111" height="8.30" fill="#2b002e"/>
<rect x="594.078" y="593.80" width="18.3111" height="8.30" fill="#2c002f"/>
<rect x="594.078" y="601.80" width="18.3111" height="8.30" fill="#2d002f"/>
<rect x="594.078" y="609.80" width="18.3111" height="8.30" fill="#2e0030"/>
<rect x="594.078" y="617.80" width="18.3111" height="16.30" fill="#2f0031"/>
<rect x="594.078" y="633.80" width="18.3111" height="8.30" fill="#2f0032"/>
<rect x="594.078" y="641.80" width="18.3111" height="8.30" fill="#300033"/>
<rect x="594.078" y="649.80" width="18.3111" height="8.30" fill="#310034"/>
<rect x="594.078" y="657.80" width="18.3111" height="16.30" fill="#320035"/>
<rect x="594.078" y="673.80" width="18.3111" height="8.30" fill="#330036"/>
<rect x="594.078" y="681.80" width="18.3111" height="16.30" fill="#340037"/>
<rect x="594.078" y="697.80" width="18.3111" height="16.30" fill="#340038"/>
<rect x="594.078" y="713.80" width="18.3111" height="8.30" fill="#350038"/>
<rect x="594.078" y="721.80" width="18.3111" height="24.30" fill="#360039"/>
<rect x="594.078" y="745.80" width="18.3111" height="8.30" fill="#37003a"/>
<rect x="594.078" y="753.80" width="18.3111" height="24.30" fill="#38003b"/>
<rect x="594.078" y="777.80" width="18.3111" height="8.30" fill="#39003c"/>
<rect x="594.078" y="785.80" width="18.3111" height="24.30" fill="#3a003d"/>
<rect x="594.078" y="809.80" width="18.3111" height="8.30" fill="#3a003e"/>
<rect x="612.089" y="169.80" width="18.3111" height="120.30" fill="#060006"/>
<rect x="612.089" y="289.80" width="18.3111" height="96.30" fill="#29002c"/>
<rect x="612.089" y="385.80" width="18.3111" height="16.30" fill="#340038"/>
<rect x="612.089" y="401.80" width="18.3111" height="16.30" fill="#350038"/>
<rect x="612.089" y="417.80" width="18.3111" height="24.30" fill="#360039"/>
<rect x="612.089" y="441.80" width="18.3111" height="24.30" fill="#37003a"/>
<rect x="612.089" y="465.80" width="18.3111" height="16.30" fill="#38003b"/>
<rect x="612.089" y="481.80" width="18.3111" height="16.30" fill="#39003c"/>
<rect x="612.089" y="497.80" width="18.3111" height="8.30" fill="#3a003d"/>
<rect x="612.089" y="505.80" width="18.3111" height="8.30" fill="#3b003f"/>
<rect x="612.089" y="513.80" width="18.3111" height="8.30" fill="#3d0041"/>
<rect x="612.089" y="521.80" width="18.3111" height="8.30" fill="#3e0041"/>
<rect x="612.089" y="529.80" width="18.3111" height="8.30" fill="#3f0042"/>
<rect x="612.089" y="537.80" width="18.3111" height="8.30" fill="#400044"/>
<rect x="612.089" y="545.80" width="18.3111" height="8.30" fill="#440048"/>
<rect x="612.089" y="553.80" width="18.3111" height="8.30" fill="#430049"/>
<rect x="612.089" y="561.80" width="18.3111" height="8.30" fill="#41004b"/>
<rect x="612.089" y="569.80" width="18.3111" height="8.30" fill="#3f004d"/>
<rect x="612.089" y="577.80" width="18.3111" height="8.30" fill="#3b0050"/>
<rect x="612.089" y="585.80" width="18.3111" height="8.30" fill="#370053"/>
<rect x="612.089" y="593.80" width="18.3111" height="8.30" fill="#360054"/>
<rect x="612.089" y="601.80" width="18.3111" height="8.30" fill="#350056"/>
<rect x="612.089" y="609.80" width="18.3111" height="8.30" fill="#340056"/>
<rect x="612.089" y="617.80" width="18.3111" height="40.30" fill="#330057"/>
<rect x="612.089" y="657.80" width="18.3111" height="56.30" fill="#320058"/>
<rect x="612.089" y="713.80" width="18.3111" height="72.30" fill="#310059"/>
<rect x="612.089" y="785.80" width="18.3111" height="32.30" fill="#30005a"/>
<rect x="630.1" y="169.80" width="18.3111" height="128.30" fill="#0f0010"/>
<rect x="630.1" y="297.80" width="18.3111" height="88.30" fill="#330057"/>
<rect x="630.1" y="385.80" width="18.3111" height="48.30" fill="#260063"/>
<rect x="630.1" y="433.80" width="18.3111" height="64.30" fill="#1e006a"/>
<rect x="630.1" y="497.80" width="18.3111" height="104.30" fill="#110076"/>
<rect x="630.1" y="601.80" width="18.3111" height="136.30" fill="#0d007a"/>
<rect x="630.1" y="737.80" width="18.3111" height="40.30" fill="#150072"/>
<rect x="630.1" y="777.80" width="18.3111" height="40.30" fill="#220066"/>
<rect x="648.111" y="169.80" width="18.3111" height="128.30" fill="#0f0010"/>
<rect x="648.111" y="297.80" width="18.3111" height="80.30" fill="#1e006a"/>
<rect x="648.111" y="377.80" width="18.3111" height="8.30" fill="#1a006e"/>
<rect x="648.111" y="385.80" width="18.3111" height="24.30" fill="#040081"/>
<rect x="648.111" y="409.80" width="18.3111" height="32.30" fill="#00097d"/>
<rect x="648.111" y="441.80" width="18.3111" height="40.30" fill="#001a6c"/>
<rect x="648.111" y="481.80" width="18.3111" height="32.30" fill="#002b5b"/>
<rect x="648.111" y="513.80" width="18.3111" height="56.30" fill="#003c4b"/>
<rect x="648.111" y="569.80" width="18.3111" height="64.30" fill="#004542"/>
<rect x="648.111" y="633.80" width="18.3111" height="40.30" fill="#003c4b"/>
<rect x="648.111" y="673.80" width="18.3111" height="32.30" fill="#002b5b"/>
<rect x="648.111" y="705.80" width="18.3111" height="32.30" fill="#001a6c"/>
<rect x="648.111" y="737.80" width="18.3111" height="32.30" fill="#00097d"/>
<rect x="648.111" y="769.80" width="18.3111" height="48.30" fill="#040081"/>
<rect x="666.122" y="169.80" width="18.3111" height="120.30" fill="#0f0010"/>
<rect x="666.122" y="289.80" width="18.3111" height="8.30" fill="#09007d"/>
<rect x="666.122" y="297.80" width="18.3111" height="56.30" fill="#040081"/>
<rect x="666.122" y="353.80" width="18.3111" height="8.30" fill="#000085"/>
<rect x="666.122" y="361.80" width="18.3111" height="8.30" fill="#000382"/>
<rect x="666.122" y="369.80" width="18.3111" height="8.30" fill="#00097d"/>
<rect x="666.122" y="377.80" width="18.3111" height="8.30" fill="#001174"/>
<rect x="666.122" y="385.80" width="18.3111" height="8.30" fill="#001a6c"/>
<rect x="666.122" y="393.80" width="18.3111" height="24.30" fill="#002b5b"/>
<rect x="666.122" y="417.80" width="18.3111" height="32.30" fill="#004542"/>
<rect x="666.122" y="449.80" width="18.3111" height="24.30" fill="#005f2a"/>
<rect x="666.122" y="473.80" width="18.3111" height="24.30" fill="#007019"/>
<rect x="666.122" y="497.80" width="18.3111" height="24.30" fill="#008108"/>
<rect x="666.122" y="521.80" width="18.3111" height="48.30" fill="#0d8e00"/>
<rect x="666.122" y="569.80" width="18.3111" height="32.30" fill="#1a9200"/>
<rect x="666.122" y="601.80" width="18.3111" height="32.30" fill="#0d8e00"/>
<rect x="666.122" y="633.80" width="18.3111" height="24.30" fill="#008a00"/>
<rect x="666.122" y="657.80" width="18.3111" height="16.30" fill="#007911"/>
<rect x="666.122" y="673.80" width="18.3111" height="16.30" fill="#006821"/>
<rect x="666.122" y="689.80" width="18.3111" height="16.30" fill="#005632"/>
<rect x="666.122" y="705.80" width="18.3111" height="16.30" fill="#004542"/>
<rect x="666.122" y="721.80" width="18.3111" height="16.30" fill="#003453"/>
<rect x="666.122" y="737.80" width="18.3111" height="24.30" fill="#002264"/>
<rect x="666.122" y="761.80" width="18.3111" height="24.30" fill="#001174"/>
<rect x="666.122" y="785.80" width="18.3111" height="32.30" fill="#000085"/>
<rect x="684.133" y="169.80" width="18.3111" height="112.30" fill="#0f0010"/>
<rect x="684.133" y="281.80" width="18.3111" height="8.30" fill="#040081"/>
<rect x="684.133" y="289.80" width="18.3111" height="48.30" fill="#000085"/>
<rect x="684.133" y="337.80" width="18.3111" height="8.30" fill="#00097d"/>
<rect x="684.133" y="345.80" width="18.3111" height="8.30" fill="#001174"/>
<rect x="684.133" y="353.80" width="18.3111" height="8.30" fill="#001a6c"/>
<rect x="684.133" y="361.80" width="18.3111" height="8.30" fill="#002264"/>
<rect x="684.133" y="369.80" width="18.3111" height="8.30" fill="#002b5b"/>
<rect x="684.133" y="377.80" width="18.3111" height="16.30" fill="#003453"/>
<rect x="684.133" y="393.80" width="18.3111" height="8.30" fill="#003c4b"/>
<rect x="684.133" y="401.80" width="18.3111" height="16.30" fill="#004e3a"/>
<rect x="684.133" y="417.80" width="18.3111" height="8.30" fill="#005f2a"/>
<rect x="684.133" y="425.80" width="18.3111" height="16.30" fill="#007019"/>
<rect x="684.133" y="441.80" width="18.3111" height="16.30" fill="#008108"/>
<rect x="684.133" y="457.80" width="18.3111" height="8.30" fill="#0d8e00"/>
<rect x="684.133" y="465.80" width="18.3111" height="8.30" fill="#269600"/>
<rect x="684.133" y="473.80" width="18.3111" height="8.30" fill="#339a00"/>
<rect x="684.133" y="481.80" width="18.3111" height="8.30" fill="#409f00"/>
<rect x="684.133" y="489.80" width="18.3111" height="8.30" fill="#4da300"/>
<rect x="684.133" y="497.80" width="18.3111" height="16.30" fill="#59a700"/>
<rect x="684.133" y="513.80" width="18.3111" height="56.30" fill="#66ab00"/>
<rect x="684.133" y="569.80" width="18.3111" height="32.30" fill="#59a700"/>
<rect x="684.133" y="601.80" width="18.3111" height="8.30" fill="#4da300"/>
<rect x="684.133" y="609.80" width="18.3111" height="16.30" fill="#409f00"/>
<rect x="684.133" y="625.80" width="18.3111" height="16.30" fill="#339a00"/>
<rect x="684.133" y="641.80" width="18.3111" height="16.30" fill="#1a9200"/>
<rect x="684.133" y="657.80" width="18.3111" height="16.30" fill="#008a00"/>
<rect x="684.133" y="673.80" width="18.3111" height="16.30" fill="#007911"/>
<rect x="684.133" y="689.80" width="18.3111" height="16.30" fill="#006821"/>
<rect x="684.133" y="705.80" width="18.3111" height="16.30" fill="#005632"/>
<rect x="684.133" y="721.80" width="18.3111" height="16.30" fill="#004542"/>
<rect x="684.133" y="737.80" width="18.3111" height="16.30" fill="#003453"/>
<rect x="684.133" y="753.80" width="18.3111" height="16.30" fill="#002b5b"/>
<rect x="684.133" y="769.80" width="18.3111" height="16.30" fill="#001a6c"/>
<rect x="684.133" y="785.80" width="18.3111" height="16.30" fill="#001174"/>
<rect x="684.133" y="801.80" width="18.3111" height="16.30" fill="#000085"/>
<rect x="702.144" y="169.80" width="18.3111" height="96.30" fill="#0f0010"/>
<rect x="702.144" y="265.80" width="18.3111" height="48.30" fill="#000085"/>
<rect x="702.144" y="313.80" width="18.3111" height="8.30" fill="#00097d"/>
<rect x="702.144" y="321.80" width="18.3111" height="8.30" fill="#001174"/>
<rect x="702.144" y="329.80" width="18.3111" height="8.30" fill="#001a6c"/>
<rect x="702.144" y="337.80" width="18.3111" height="8.30" fill="#002b5b"/>
<rect x="702.144" y="345.80" width="18.3111" height="8.30" fill="#003453"/>
<rect x="702.144" y="353.80" width="18.3111" height="8.30" fill="#003c4b"/>
<rect x="702.144" y="361.80" width="18.3111" height="8.30" fill="#004542"/>
<rect x="702.144" y="369.80" width="18.3111" height="8.30" fill="#004e3a"/>
<rect x="702.144" y="377.80" width="18.3111" height="8.30" fill="#005f2a"/>
<rect x="702.144" y="385.80" width="18.3111" height="8.30" fill="#007019"/>
<rect x="702.144" y="393.80" width="18.3111" height="8.30" fill="#008108"/>
<rect x="702.144" y="401.80" width="18.3111" height="8.30" fill="#0d8e00"/>
<rect x="702.144" y="409.80" width="18.3111" height="8.30" fill="#269600"/>
<rect x="702.144" y="417.80" width="18.3111" height="8.30" fill="#409f00"/>
<rect x="702.144" y="425.80" width="18.3111" height="8.30" fill="#59a700"/>
<rect x="702.144" y="433.80" width="18.3111" height="8.30" fill="#80b300"/>
<rect x="702.144" y="441.80" width="18.3111" height="8.30" fill="#a6c000"/>
<rect x="702.144" y="449.80" width="18.3111" height="8.30" fill="#cccc00"/>
<rect x="702.144" y="457.80" width="18.3111" height="8.30" fill="#ccc200"/>
<rect x="702.144" y="465.80" width="18.3111" height="8.30" fill="#ccad00"/>
<rect x="702.144" y="473.80" width="18.3111" height="16.30" fill="#cc9900"/>
<rect x="702.144" y="489.80" width="18.3111" height="24.30" fill="#cc8f00"/>
<rect x="702.144" y="513.80" width="18.3111" height="16.30" fill="#cc9900"/>
<rect x="702.144" y="529.80" width="18.3111" height="16.30" fill="#cca300"/>
<rect x="702.144" y="545.80" width="18.3111" height="8.30" fill="#ccb800"/>
<rect x="702.144" y="553.80" width="18.3111" height="8.30" fill="#ccc200"/>
<rect x="702.144" y="561.80" width="18.3111" height="8.30" fill="#cccc00"/>
<rect x="702.144" y="569.80" width="18.3111" height="8.30" fill="#bfc800"/>
<rect x="702.144" y="577.80" width="18.3111" height="8.30" fill="#a6c000"/>
<rect x="702.144" y="585.80" width="18.3111" height="8.30" fill="#99bc00"/>
<rect x="702.144" y="593.80" width="18.3111" height="8.30" fill="#8cb700"/>
<rect x="702.144" y="601.80" width="18.3111" height="8.30" fill="#73af00"/>
<rect x="702.144" y="609.80" width="18.3111" height="8.30" fill="#66ab00"/>
<rect x="702.144" y="617.80" width="18.3111" height="8.30" fill="#59a700"/>
<rect x="702.144" y="625.80" width="18.3111" height="8.30" fill="#4da300"/>
<rect x="702.144" y="633.80" width="18.3111" height="8.30" fill="#409f00"/>
<rect x="702.144" y="641.80" width="18.3111" height="8.30" fill="#339a00"/>
<rect x="702.144" y="649.80" width="18.3111" height="8.30" fill="#269600"/>
<rect x="702.144" y="657.80" width="18.3111" height="8.30" fill="#1a9200"/>
<rect x="702.144" y="665.80" width="18.3111" height="8.30" fill="#0d8e00"/>
<rect x="702.144" y="673.80" width="18.3111" height="8.30" fill="#008a00"/>
<rect x="702.144" y="681.80" width="18.3111" height="8.30" fill="#008108"/>
<rect x="702.144" y="689.80" width="18.3111" height="8.30" fill="#007911"/>
<rect x="702.144" y="697.80" width="18.3111" height="8.30" fill="#006821"/>
<rect x="702.144" y="705.80" width="18.3111" height="8.30" fill="#005f2a"/>
<rect x="702.144" y="713.80" width="18.3111" height="8.30" fill="#005632"/>
<rect x="702.144" y="721.80" width="18.3111" height="8.30" fill="#004e3a"/>
<rect x="702.144" y="729.80" width="18.3111" height="8.30" fill="#004542"/>
<rect x="702.144" y="737.80" width="18.3111" height="8.30" fill="#003c4b"/>
<rect x="702.144" y="745.80" width="18.3111" height="8.30" fill="#003453"/>
<rect x="702.144" y="753.80" width="18.3111" height="8.30" fill="#002b5b"/>
<rect x="702.144" y="761.80" width="18.3111" height="8.30" fill="#002264"/>
<rect x="702.144" y="769.80" width="18.3111" height="8.30" fill="#001a6c"/>
<rect x="702.144" y="777.80" width="18.3111" height="8.30" fill="#001174"/>
<rect x="702.144" y="785.80" width="18.3111" height="8.30" fill="#00097d"/>
<rect x="702.144" y="793.80" width="18.3111" height="24.30" fill="#000085"/>
<rect x="720.156" y="169.80" width="18.3111" height="64.30" fill="#0f0010"/>
<rect x="720.156" y="233.80" width="18.3111" height="56.30" fill="#000085"/>
<rect x="720.156" y="289.80" width="18.3111" height="8.30" fill="#00097d"/>
<rect x="720.156" y="297.80" width="18.3111" height="8.30" fill="#001174"/>
<rect x="720.156" y="305.80" width="18.3111" height="8.30" fill="#002264"/>
<rect x="720.156" y="313.80" width="18.3111" height="8.30" fill="#002b5b"/>
<rect x="720.156" y="321.80" width="18.3111" height="8.30" fill="#003c4b"/>
<rect x="720.156" y="329.80" width="18.3111" height="8.30" fill="#004e3a"/>
<rect x="720.156" y="337.80" width="18.3111" height="8.30" fill="#005f2a"/>
<rect x="720.156" y="345.80" width="18.3111" height="8.30" fill="#007019"/>
<rect x="720.156" y="353.80" width="18.3111" height="8.30" fill="#008108"/>
<rect x="720.156" y="361.80" width="18.3111" height="8.30" fill="#0d8e00"/>
<rect x="720.156" y="369.80" width="18.3111" height="8.30" fill="#339a00"/>
<rect x="720.156" y="377.80" width="18.3111" height="8.30" fill="#66ab00"/>
<rect x="720.156" y="385.80" width="18.3111" height="8.30" fill="#a6c000"/>
<rect x="720.156" y="393.80" width="18.3111" height="8.30" fill="#ccb800"/>
<rect x="720.156" y="401.80" width="18.3111" height="8.30" fill="#cc9900"/>
<rect x="720.156" y="409.80" width="18.3111" height="8.30" fill="#cc7000"/>
<rect x="720.156" y="417.80" width="18.3111" height="8.30" fill="#cc5c00"/>
<rect x="720.156" y="425.80" width="18.3111" height="8.30" fill="#cc4700"/>
<rect x="720.156" y="433.80" width="18.3111" height="8.30" fill="#cc4100"/>
<rect x="720.156" y="441.80" width="18.3111" height="40.30" fill="#cc3700"/>
<rect x="720.156" y="481.80" width="18.3111" height="8.30" fill="#cc4100"/>
<rect x="720.156" y="489.80" width="18.3111" height="24.30" fill="#cc4b00"/>
<rect x="720.156" y="513.80" width="18.3111" height="8.30" fill="#cc5100"/>
<rect x="720.156" y="521.80" width="18.3111" height="8.30" fill="#cc5c00"/>
<rect x="720.156" y="529.80" width="18.3111" height="8.30" fill="#cc7000"/>
<rect x="720.156" y="537.80" width="18.3111" height="8.30" fill="#cc7a00"/>
<rect x="720.156" y="545.80" width="18.3111" height="8.30" fill="#cc8f00"/>
<rect x="720.156" y="553.80" width="18.3111" height="8.30" fill="#cca300"/>
<rect x="720.156" y="561.80" width="18.3111" height="8.30" fill="#ccad00"/>
<rect x="720.156" y="569.80" width="18.3111" height="8.30" fill="#ccc200"/>
<rect x="720.156" y="577.80" width="18.3111" height="8.30" fill="#bfc800"/>
<rect x="720.156" y="585.80" width="18.3111" height="8.30" fill="#b2c400"/>
<rect x="720.156" y="593.80" width="18.3111" height="8.30" fill="#a6c000"/>
<rect x="720.156" y="601.80" width="18.3111" height="8.30" fill="#8cb700"/>
<rect x="720.156" y="609.80" width="18.3111" height="8.30" fill="#80b300"/>
<rect x="720.156" y="617.80" width="18.3111" height="8.30" fill="#73af00"/>
<rect x="720.156" y="625.80" width="18.3111" height="8.30" fill="#66ab00"/>
<rect x="720.156" y="633.80" width="18.3111" height="8.30" fill="#59a700"/>
<rect x="720.156" y="641.80" width="18.3111" height="8.30" fill="#4da300"/>
<rect x="720.156" y="649.80" width="18.3111" height="8.30" fill="#409f00"/>
<rect x="720.156" y="657.80" width="18.3111" height="8.30" fill="#269600"/>
<rect x="720.156" y="665.80" width="18.3111" height="8.30" fill="#1a9200"/>
<rect x="720.156" y="673.80" width="18.3111" height="8.30" fill="#0d8e00"/>
<rect x="720.156" y="681.80" width="18.3111" height="8.30" fill="#008a00"/>
<rect x="720.156" y="689.80" width="18.3111" height="8.30" fill="#008108"/>
<rect x="720.156" y="697.80" width="18.3111" height="8.30" fill="#007019"/>
<rect x="720.156" y="705.80" width="18.3111" height="8.30" fill="#005f2a"/>
<rect x="720.156" y="713.80" width="18.3111" height="8.30" fill="#005632"/>
<rect x="720.156" y="721.80" width="18.3111" height="8.30" fill="#004542"/>
<rect x="720.156" y="729.80" width="18.3111" height="8.30" fill="#003c4b"/>
<rect x="720.156" y="737.80" width="18.3111" height="8.30" fill="#003453"/>
<rect x="720.156" y="745.80" width="18.3111" height="8.30" fill="#002b5b"/>
<rect x="720.156" y="753.80" width="18.3111" height="8.30" fill="#002264"/>
<rect x="720.156" y="761.80" width="18.3111" height="8.30" fill="#001a6c"/>
<rect x="720.156" y="769.80" width="18.3111" height="8.30" fill="#001174"/>
<rect x="720.156" y="777.80" width="18.3111" height="8.30" fill="#00097d"/>
<rect x="720.156" y="785.80" width="18.3111" height="16.30" fill="#000085"/>
<rect x="720.156" y="801.80" width="18.3111" height="16.30" fill="#0f0010"/>
<rect x="738.167" y="169.80" width="18.3111" height="40.30" fill="#0f0010"/>
<rect x="738.167" y="209.80" width="18.3111" height="48.30" fill="#000085"/>
<rect x="738.167" y="257.80" width="18.3111" height="8.30" fill="#00097d"/>
<rect x="738.167" y="265.80" width="18.3111" height="8.30" fill="#001174"/>
<rect x="738.167" y="273.80" width="18.3111" height="8.30" fill="#001a6c"/>
<rect x="738.167" y="281.80" width="18.3111" height="8.30" fill="#002264"/>
<rect x="738.167" y="289.80" width="18.3111" height="8.30" fill="#003453"/>
<rect x="738.167" y="297.80" width="18.3111" height="8.30" fill="#004542"/>
<rect x="738.167" y="305.80" width="18.3111" height="8.30" fill="#005f2a"/>
<rect x="738.167" y="313.80" width="18.3111" height="8.30" fill="#007911"/>
<rect x="738.167" y="321.80" width="18.3111" height="8.30" fill="#0d8e00"/>
<rect x="738.167" y="329.80" width="18.3111" height="8.30" fill="#339a00"/>
<rect x="738.167" y="337.80" width="18.3111" height="8.30" fill="#73af00"/>
<rect x="738.167" y="345.80" width="18.3111" height="8.30" fill="#cccc00"/>
<rect x="738.167" y="353.80" width="18.3111" height="8.30" fill="#cc9900"/>
<rect x="738.167" y="361.80" width="18.3111" height="8.30" fill="#cc6600"/>
<rect x="738.167" y="369.80" width="18.3111" height="8.30" fill="#cc3300"/>
<rect x="738.167" y="377.80" width="18.3111" height="8.30" fill="#cc2400"/>
<rect x="738.167" y="385.80" width="18.3111" height="8.30" fill="#cd1400"/>
<rect x="738.167" y="393.80" width="18.3111" height="24.30" fill="#d41100"/>
<rect x="738.167" y="417.80" width="18.3111" height="72.30" fill="#d71000"/>
<rect x="738.167" y="489.80" width="18.3111" height="16.30" fill="#d01200"/>
<rect x="738.167" y="505.80" width="18.3111" height="8.30" fill="#cd1400"/>
<rect x="738.167" y="513.80" width="18.3111" height="8.30" fill="#cc2400"/>
<rect x="738.167" y="521.80" width="18.3111" height="8.30" fill="#cc2800"/>
<rect x="738.167" y="529.80" width="18.3111" height="8.30" fill="#cc3d00"/>
<rect x="738.167" y="537.80" width="18.3111" height="8.30" fill="#cc5c00"/>
<rect x="738.167" y="545.80" width="18.3111" height="8.30" fill="#cc7000"/>
<rect x="738.167" y="553.80" width="18.3111" height="8.30" fill="#cc8400"/>
<rect x="738.167" y="561.80" width="18.3111" height="8.30" fill="#cc9900"/>
<rect x="738.167" y="569.80" width="18.3111" height="8.30" fill="#ccad00"/>
<rect x="738.167" y="577.80" width="18.3111" height="8.30" fill="#ccc200"/>
<rect x="738.167" y="585.80" width="18.3111" height="16.30" fill="#cccc00"/>
<rect x="738.167" y="601.80" width="18.3111" height="8.30" fill="#a6c000"/>
<rect x="738.167" y="609.80" width="18.3111" height="8.30" fill="#99bc00"/>
<rect x="738.167" y="617.80" width="18.3111" height="8.30" fill="#8cb700"/>
<rect x="738.167" y="625.80" width="18.3111" height="8.30" fill="#80b300"/>
<rect x="738.167" y="633.80" width="18.3111" height="8.30" fill="#66ab00"/>
<rect x="738.167" y="641.80" width="18.3111" height="8.30" fill="#59a700"/>
<rect x="738.167" y="649.80" width="18.3111" height="8.30" fill="#409f00"/>
<rect x="738.167" y="657.80" width="18.3111" height="8.30" fill="#339a00"/>
<rect x="738.167" y="665.80" width="18.3111" height="8.30" fill="#1a9200"/>
<rect x="738.167" y="673.80" width="18.3111" height="8.30" fill="#0d8e00"/>
<rect x="738.167" y="681.80" width="18.3111" height="8.30" fill="#008108"/>
<rect x="738.167" y="689.80" width="18.3111" height="8.30" fill="#007019"/>
<rect x="738.167" y="697.80" width="18.3111" height="8.30" fill="#005f2a"/>
<rect x="738.167" y="705.80" width="18.3111" height="8.30" fill="#004e3a"/>
<rect x="738.167" y="713.80" width="18.3111" height="8.30" fill="#003c4b"/>
<rect x="738.167" y="721.80" width="18.3111" height="8.30" fill="#002b5b"/>
<rect x="738.167" y="729.80" width="18.3111" height="8.30" fill="#002264"/>
<rect x="738.167" y="737.80" width="18.3111" height="8.30" fill="#001a6c"/>
<rect x="738.167" y="745.80" width="18.3111" height="8.30" fill="#001174"/>
<rect x="738.167" y="753.80" width="18.3111" height="8.30" fill="#00097d"/>
<rect x="738.167" y="761.80" width="18.3111" height="8.30" fill="#000085"/>
<rect x="738.167" y="769.80" width="18.3111" height="48.30" fill="#0f0010"/>
<rect x="756.178" y="169.80" width="18.3111" height="24.30" fill="#0f0010"/>
<rect x="756.178" y="193.80" width="18.3111" height="40.30" fill="#000085"/>
<rect x="756.178" y="233.80" width="18.3111" height="8.30" fill="#00097d"/>
<rect x="756.178" y="241.80" width="18.3111" height="8.30" fill="#001174"/>
<rect x="756.178" y="249.80" width="18.3111" height="8.30" fill="#001a6c"/>
<rect x="756.178" y="257.80" width="18.3111" height="8.30" fill="#002b5b"/>
<rect x="756.178" y="265.80" width="18.3111" height="8.30" fill="#003c4b"/>
<rect x="756.178" y="273.80" width="18.3111" height="8.30" fill="#005632"/>
<rect x="756.178" y="281.80" width="18.3111" height="8.30" fill="#006821"/>
<rect x="756.178" y="289.80" width="18.3111" height="8.30" fill="#008108"/>
<rect x="756.178" y="297.80" width="18.3111" height="8.30" fill="#1a9200"/>
<rect x="756.178" y="305.80" width="18.3111" height="8.30" fill="#4da300"/>
<rect x="756.178" y="313.80" width="18.3111" height="8.30" fill="#8cb700"/>
<rect x="756.178" y="321.80" width="18.3111" height="8.30" fill="#ccc200"/>
<rect x="756.178" y="329.80" width="18.3111" height="8.30" fill="#cc7a00"/>
<rect x="756.178" y="337.80" width="18.3111" height="8.30" fill="#cc2800"/>
<rect x="756.178" y="345.80" width="18.3111" height="8.30" fill="#cf1300"/>
<rect x="756.178" y="353.80" width="18.3111" height="8.30" fill="#dc0e00"/>
<rect x="756.178" y="361.80" width="18.3111" height="8.30" fill="#e20b00"/>
<rect x="756.178" y="369.80" width="18.3111" height="24.30" fill="#e90900"/>
<rect x="756.178" y="393.80" width="18.3111" height="104.30" fill="#e60a00"/>
<rect x="756.178" y="497.80" width="18.3111" height="24.30" fill="#df0c00"/>
<rect x="756.178" y="521.80" width="18.3111" height="16.30" fill="#d61000"/>
<rect x="756.178" y="537.80" width="18.3111" height="8.30" fill="#cc1400"/>
<rect x="756.178" y="545.80" width="18.3111" height="8.30" fill="#cc3300"/>
<rect x="756.178" y="553.80" width="18.3111" height="8.30" fill="#cc5100"/>
<rect x="756.178" y="561.80" width="18.3111" height="8.30" fill="#cc6600"/>
<rect x="756.178" y="569.80" width="18.3111" height="8.30" fill="#cc8400"/>
<rect x="756.178" y="577.80" width="18.3111" height="8.30" fill="#cc9900"/>
<rect x="756.178" y="585.80" width="18.3111" height="8.30" fill="#ccad00"/>
<rect x="756.178" y="593.80" width="18.3111" height="8.30" fill="#ccb800"/>
<rect x="756.178" y="601.80" width="18.3111" height="8.30" fill="#ccc200"/>
<rect x="756.178" y="609.80" width="18.3111" height="8.30" fill="#b2c400"/>
<rect x="756.178" y="617.80" width="18.3111" height="8.30" fill="#99bc00"/>
<rect x="756.178" y="625.80" width="18.3111" height="8.30" fill="#80b300"/>
<rect x="756.178" y="633.80" width="18.3111" height="8.30" fill="#66ab00"/>
<rect x="756.178" y="641.80" width="18.3111" height="8.30" fill="#4da300"/>
<rect x="756.178" y="649.80" width="18.3111" height="8.30" fill="#339a00"/>
<rect x="756.178" y="657.80" width="18.3111" height="8.30" fill="#1a9200"/>
<rect x="756.178" y="665.80" width="18.3111" height="8.30" fill="#008a00"/>
<rect x="756.178" y="673.80" width="18.3111" height="8.30" fill="#007019"/>
<rect x="756.178" y="681.80" width="18.3111" height="8.30" fill="#005f2a"/>
<rect x="756.178" y="689.80" width="18.3111" height="8.30" fill="#004e3a"/>
<rect x="756.178" y="697.80" width="18.3111" height="8.30" fill="#003c4b"/>
<rect x="756.178" y="705.80" width="18.3111" height="8.30" fill="#002b5b"/>
<rect x="756.178" y="713.80" width="18.3111" height="8.30" fill="#001a6c"/>
<rect x="756.178" y="721.80" width="18.3111" height="8.30" fill="#001174"/>
<rect x="756.178" y="729.80" width="18.3111" height="8.30" fill="#00097d"/>
<rect x="756.178" y="737.80" width="18.3111" height="80.30" fill="#0f0010"/>
<rect x="774.189" y="169.80" width="18.3111" height="8.30" fill="#0f0010"/>
<rect x="774.189" y="177.80" width="18.3111" height="32.30" fill="#000085"/>
<rect x="774.189" y="209.80" width="18.3111" height="8.30" fill="#00097d"/>
<rect x="774.189" y="217.80" width="18.3111" height="8.30" fill="#001174"/>
<rect x="774.189" y="225.80" width="18.3111" height="8.30" fill="#001a6c"/>
<rect x="774.189" y="233.80" width="18.3111" height="8.30" fill="#002264"/>
<rect x="774.189" y="241.80" width="18.3111" height="8.30" fill="#002b5b"/>
<rect x="774.189" y="249.80" width="18.3111" height="8.30" fill="#003c4b"/>
<rect x="774.189" y="257.80" width="18.3111" height="8.30" fill="#004e3a"/>
<rect x="774.189" y="265.80" width="18.3111" height="8.30" fill="#006821"/>
<rect x="774.189" y="273.80" width="18.3111" height="8.30" fill="#008108"/>
<rect x="774.189" y="281.80" width="18.3111" height="8.30" fill="#0d8e00"/>
<rect x="774.189" y="289.80" width="18.3111" height="8.30" fill="#339a00"/>
<rect x="774.189" y="297.80" width="18.3111" height="8.30" fill="#73af00"/>
<rect x="774.189" y="305.80" width="18.3111" height="8.30" fill="#cccc00"/>
<rect x="774.189" y="313.80" width="18.3111" height="8.30" fill="#cc7000"/>
<rect x="774.189" y="321.80" width="18.3111" height="8.30" fill="#cc1400"/>
<rect x="774.189" y="329.80" width="18.3111" height="8.30" fill="#d90f00"/>
<rect x="774.189" y="337.80" width="18.3111" height="8.30" fill="#e60a00"/>
<rect x="774.189" y="345.80" width="18.3111" height="8.30" fill="#ef0600"/>
<rect x="774.189" y="353.80" width="18.3111" height="8.30" fill="#f20500"/>
<rect x="774.189" y="361.80" width="18.3111" height="56.30" fill="#f90300"/>
<rect x="774.189" y="417.80" width="18.3111" height="32.30" fill="#fc0100"/>
<rect x="774.189" y="449.80" width="18.3111" height="8.30" fill="#ff1919"/>
<rect x="774.189" y="457.80" width="18.3111" height="24.30" fill="#ff2626"/>
<rect x="774.189" y="481.80" width="18.3111" height="8.30" fill="#ff0505"/>
<rect x="774.189" y="489.80" width="18.3111" height="8.30" fill="#fd0100"/>
<rect x="774.189" y="497.80" width="18.3111" height="16.30" fill="#fa0200"/>
<rect x="774.189" y="513.80" width="18.3111" height="16.30" fill="#f40400"/>
<rect x="774.189" y="529.80" width="18.3111" height="8.30" fill="#ea0800"/>
<rect x="774.189" y="537.80" width="18.3111" height="8.30" fill="#e00c00"/>
<rect x="774.189" y="545.80" width="18.3111" height="8.30" fill="#d90f00"/>
<rect x="774.189" y="553.80" width="18.3111" height="8.30" fill="#cf1300"/>
<rect x="774.189" y="561.80" width="18.3111" height="8.30" fill="#cc2800"/>
<rect x="774.189" y="569.80" width="18.3111" height="8.30" fill="#cc4700"/>
<rect x="774.189" y="577.80" width="18.3111" height="8.30" fill="#cc6600"/>
<rect x="774.189" y="585.80" width="18.3111" height="8.30" fill="#cc8400"/>
<rect x="774.189" y="593.80" width="18.3111" height="8.30" fill="#cc9900"/>
<rect x="774.189" y="601.80" width="18.3111" height="8.30" fill="#ccad00"/>
<rect x="774.189" y="609.80" width="18.3111" height="8.30" fill="#cccc00"/>
<rect x="774.189" y="617.80" width="18.3111" height="8.30" fill="#a6c000"/>
<rect x="774.189" y="625.80" width="18.3111" height="8.30" fill="#8cb700"/>
<rect x="774.189" y="633.80" width="18.3111" height="8.30" fill="#66ab00"/>
<rect x="774.189" y="641.80" width="18.3111" height="8.30" fill="#409f00"/>
<rect x="774.189" y="649.80" width="18.3111" height="8.30" fill="#269600"/>
<rect x="774.189" y="657.80" width="18.3111" height="8.30" fill="#0d8e00"/>
<rect x="774.189" y="665.80" width="18.3111" height="8.30" fill="#008108"/>
<rect x="774.189" y="673.80" width="18.3111" height="8.30" fill="#006821"/>
<rect x="774.189" y="681.80" width="18.3111" height="8.30" fill="#005632"/>
<rect x="774.189" y="689.80" width="18.3111" height="8.30" fill="#003c4b"/>
<rect x="774.189" y="697.80" width="18.3111" height="8.30" fill="#002b5b"/>
<rect x="774.189" y="705.80" width="18.3111" height="8.30" fill="#001a6c"/>
<rect x="774.189" y="713.80" width="18.3111" height="104.30" fill="#0f0010"/>
</g>
<rect x="143.8" y="169.8" width="648.4" height="648" fill="none" stroke="#000" stroke-width="1"/>
<g stroke="#000" stroke-width="1" fill="none"><path d="M143.8 169.8 v12.5 M143.8 817.8 v-12.5"/><path d="M161.811 169.8 v6 M161.811 817.8 v-6"/><path d="M179.822 169.8 v6 M179.822 817.8 v-6"/><path d="M197.833 169.8 v6 M197.833 817.8 v-6"/><path d="M215.844 169.8 v6 M215.844 817.8 v-6"/><path d="M233.856 169.8 v12.5 M233.856 817.8 v-12.5"/><path d="M251.867 169.8 v6 M251.867 817.8 v-6"/><path d="M269.878 169.8 v6 M269.878 817.8 v-6"/><path d="M287.889 169.8 v6 M287.889 817.8 v-6"/><path d="M305.9 169.8 v6 M305.9 817.8 v-6"/><path d="M323.911 169.8 v12.5 M323.911 817.8 v-12.5"/><path d="M341.922 169.8 v6 M341.922 817.8 v-6"/><path d="M359.933 169.8 v6 M359.933 817.8 v-6"/><path d="M377.944 169.8 v6 M377.944 817.8 v-6"/><path d="M395.956 169.8 v6 M395.956 817.8 v-6"/><path d="M413.967 169.8 v12.5 M413.967 817.8 v-12.5"/><path d="M431.978 169.8 v6 M431.978 817.8 v-6"/><path d="M449.989 169.8 v6 M449.989 817.8 v-6"/><path d="M468 169.8 v6 M468 817.8 v-6"/><path d="M486.011 169.8 v6 M486.011 817.8 v-6"/><path d="M504.022 169.8 v12.5 M504.022 817.8 v-12.5"/><path d="M522.033 169.8 v6 M522.033 817.8 v-6"/><path d="M540.044 169.8 v6 M540.044 817.8 v-6"/><path d="M558.056 169.8 v6 M558.056 817.8 v-6"/><path d="M576.067 169.8 v6 M576.067 817.8 v-6"/><path d="M594.078 169.8 v12.5 M594.078 817.8 v-12.5"/><path d="M612.089 169.8 v6 M612.089 817.8 v-6"/><path d="M630.1 169.8 v6 M630.1 817.8 v-6"/><path d="M648.111 169.8 v6 M648.111 817.8 v-6"/><path d="M666.122 169.8 v6 M666.122 817.8 v-6"/><path d="M684.133 169.8 v12.5 M684.133 817.8 v-12.5"/><path d="M702.144 169.8 v6 M702.144 817.8 v-6"/><path d="M720.156 169.8 v6 M720.156 817.8 v-6"/><path d="M738.167 169.8 v6 M738.167 817.8 v-6"/><path d="M756.178 169.8 v6 M756.178 817.8 v-6"/><path d="M774.189 169.8 v12.5 M774.189 817.8 v-12.5"/><path d="M792.2 169.8 v6 M792.2 817.8 v-6"/><path d="M143.8 737.80 h6 M792.2 737.80 h-6"/><path d="M143.8 657.80 h12.5 M792.2 657.80 h-12.5"/><path d="M143.8 577.80 h6 M792.2 577.80 h-6"/><path d="M143.8 497.80 h12.5 M792.2 497.80 h-12.5"/><path d="M143.8 417.80 h6 M792.2 417.80 h-6"/><path d="M143.8 337.80 h12.5 M792.2 337.80 h-12.5"/><path d="M143.8 257.80 h6 M792.2 257.80 h-6"/><path d="M143.8 177.80 h12.5 M792.2 177.80 h-12.5"/></g>
<rect x="539.8" y="33.25" width="324.4" height="14.25" fill="url(#cb)" stroke="#000" stroke-width="1"/>
<g stroke="#000" stroke-width="1" fill="none"><path d="M593.87 33.25 v3 M593.87 47.5 v-3"/><path d="M647.93 33.25 v3 M647.93 47.5 v-3"/><path d="M702.00 33.25 v3 M702.00 47.5 v-3"/><path d="M756.07 33.25 v3 M756.07 47.5 v-3"/><path d="M810.13 33.25 v3 M810.13 47.5 v-3"/></g>
<text x="702" y="19.8" text-anchor="middle">TEC</text>
<text x="539.8" y="81.2" text-anchor="middle">0</text><text x="593.9" y="81.2" text-anchor="middle">10</text><text x="647.9" y="81.2" text-anchor="middle">20</text><text x="702.0" y="81.2" text-anchor="middle">30</text><text x="756.1" y="81.2" text-anchor="middle">40</text><text x="810.1" y="81.2" text-anchor="middle">50</text><text x="864.2" y="81.2" text-anchor="middle">60</text>
<text x="471.3" y="156.5" text-anchor="middle" xml:space="preserve" style="font-size:30.12px">PBf20150309  UT: 13.5  mjd: 57090</text>
<text x="143.8" y="851.5" text-anchor="middle">0</text><text x="233.856" y="851.5" text-anchor="middle">50</text><text x="323.911" y="851.5" text-anchor="middle">100</text><text x="413.967" y="851.5" text-anchor="middle">150</text><text x="504.022" y="851.5" text-anchor="middle">200</text><text x="594.078" y="851.5" text-anchor="middle">250</text><text x="684.133" y="851.5" text-anchor="middle">300</text><text x="774.189" y="851.5" text-anchor="middle">350</text>
<text x="130" y="825.2" text-anchor="end">-40</text><text x="130" y="665.2" text-anchor="end">-20</text><text x="130" y="505.2" text-anchor="end">0</text><text x="130" y="345.2" text-anchor="end">20</text><text x="130" y="185.2" text-anchor="end">40</text>
<text x="0" y="417.6">Latitude</text>
<text x="468.2" y="892.8" text-anchor="middle">Longitude</text>
</svg>
</body></html>
